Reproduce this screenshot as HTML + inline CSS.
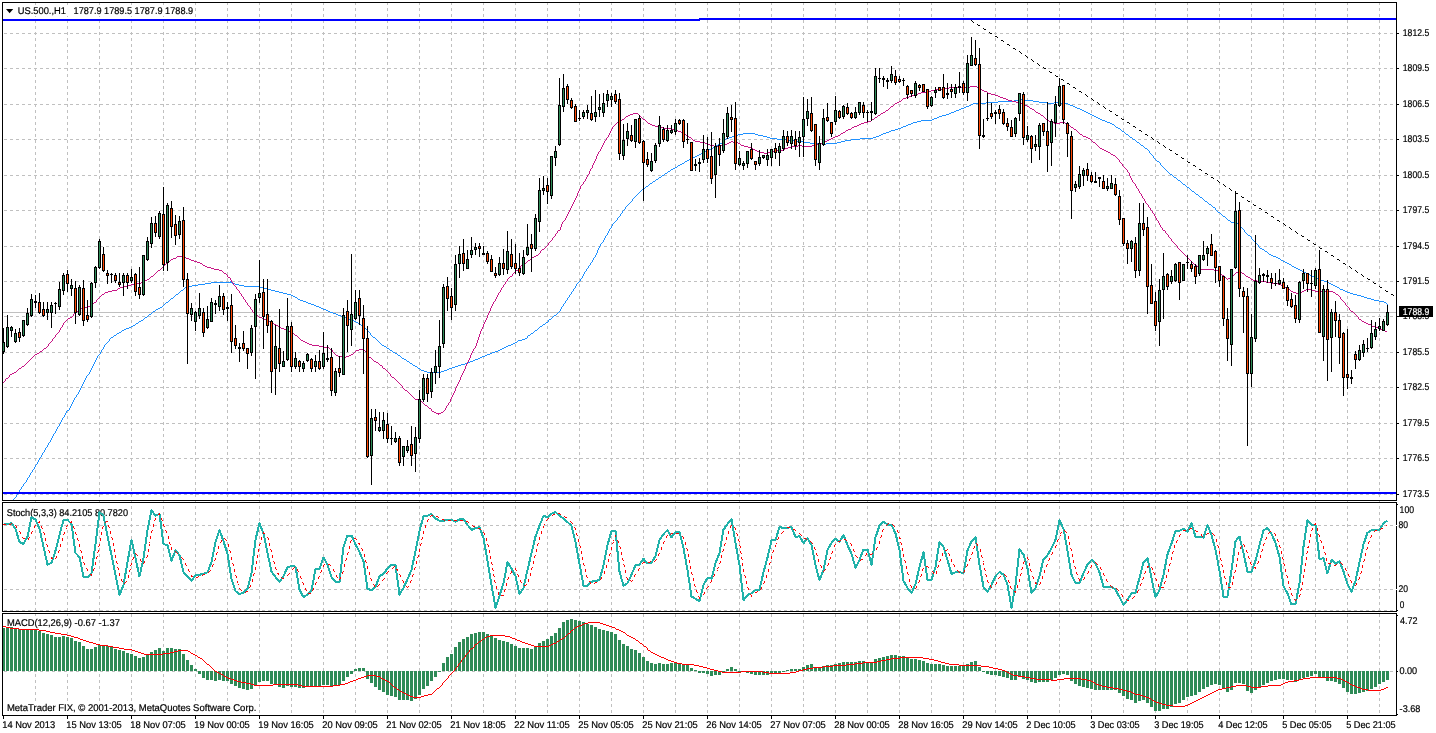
<!DOCTYPE html>
<html><head><meta charset="utf-8"><title>US.500 H1</title>
<style>html,body{margin:0;padding:0;background:#fff;overflow:hidden}svg{display:block;will-change:transform}text{font-family:"Liberation Sans",sans-serif}</style>
</head><body>
<svg width="1436" height="733" viewBox="0 0 1436 733" shape-rendering="crispEdges">
<rect x="0" y="0" width="1436" height="733" fill="#fff"/>
<path d="M35.5 2V715M67.5 2V715M99.5 2V715M131.5 2V715M163.5 2V715M195.5 2V715M227.5 2V715M259.5 2V715M291.5 2V715M323.5 2V715M355.5 2V715M387.5 2V715M419.5 2V715M451.5 2V715M483.5 2V715M515.5 2V715M547.5 2V715M579.5 2V715M611.5 2V715M643.5 2V715M675.5 2V715M707.5 2V715M739.5 2V715M771.5 2V715M803.5 2V715M835.5 2V715M867.5 2V715M899.5 2V715M931.5 2V715M963.5 2V715M995.5 2V715M1027.5 2V715M1059.5 2V715M1091.5 2V715M1123.5 2V715M1155.5 2V715M1187.5 2V715M1219.5 2V715M1251.5 2V715M1283.5 2V715M1315.5 2V715M1347.5 2V715M1379.5 2V715" stroke="#c0c0c0" stroke-width="1" stroke-dasharray="3 3" fill="none"/>
<path d="M3 33.5H1396M3 68.5H1396M3 104.5H1396M3 139.5H1396M3 175.5H1396M3 210.5H1396M3 246.5H1396M3 281.5H1396M3 316.5H1396M3 352.5H1396M3 387.5H1396M3 423.5H1396M3 458.5H1396M3 494.5H1396M3 525.5H1396M3 589.5H1396M3 610.5H1396M3 671.5H1396" stroke="#c0c0c0" stroke-width="1" stroke-dasharray="3 3" stroke-dashoffset="5" fill="none"/>
<path d="M3 312.5H1396" stroke="#c0c0c0" stroke-width="1" fill="none"/>
<rect x="4" y="5" width="190" height="11" fill="#fff"/><rect x="5" y="505" width="125" height="13" fill="#fff"/><rect x="5" y="616" width="117" height="13" fill="#fff"/><rect x="5" y="701" width="253" height="13" fill="#fff"/><g font-family="Liberation Sans, sans-serif" text-rendering="geometricPrecision" shape-rendering="geometricPrecision"><text x="17.7" y="13.8" font-size="9.8" fill="#000" stroke="#000" stroke-width="0.2" textLength="48.3" lengthAdjust="spacingAndGlyphs">US.500.,H1</text><text x="73.6" y="13.8" font-size="9.8" fill="#000" stroke="#000" stroke-width="0.2" textLength="119.5" lengthAdjust="spacingAndGlyphs">1787.9 1789.5 1787.9 1788.9</text><path d="M6 9H13.2L9.6 13.2Z" fill="#000"/><text x="6.8" y="515.8" font-size="9.8" fill="#000" stroke="#000" stroke-width="0.2" textLength="121.2" lengthAdjust="spacingAndGlyphs">Stoch(5,3,3) 84.2105 80.7820</text><text x="6.9" y="626" font-size="9.8" fill="#000" stroke="#000" stroke-width="0.2" textLength="113" lengthAdjust="spacingAndGlyphs">MACD(12,26,9) -0.67 -1.37</text><text x="6.9" y="711" font-size="9.8" fill="#000" stroke="#000" stroke-width="0.2" textLength="249.6" lengthAdjust="spacingAndGlyphs">MetaTrader FIX, © 2001-2013, MetaQuotes Software Corp.</text></g>
<clipPath id="cm"><rect x="3" y="3" width="1393" height="497"/></clipPath>
<g clip-path="url(#cm)">
<path d="M1021 99h1v1h-1zM1014 100h7v1h-7zM1022 100h11v1h-11zM998 101h16v1h-16zM1033 101h6v1h-6zM986 102h12v1h-12zM1039 102h8v1h-8zM1054 102h7v1h-7zM973 103h13v1h-13zM1047 103h7v1h-7zM1061 103h7v1h-7zM971 104h2v1h-2zM1068 104h2v1h-2zM969 105h2v1h-2zM1070 105h3v1h-3zM966 106h3v1h-3zM1073 106h2v1h-2zM964 107h2v1h-2zM1075 107h2v1h-2zM961 108h3v1h-3zM1077 108h3v1h-3zM959 109h2v1h-2zM1080 109h2v1h-2zM956 110h3v1h-3zM1082 110h2v1h-2zM954 111h2v1h-2zM1084 111h2v1h-2zM951 112h3v1h-3zM1086 112h2v1h-2zM949 113h2v1h-2zM1088 113h2v1h-2zM946 114h3v1h-3zM1090 114h2v1h-2zM942 115h4v1h-4zM1092 115h2v1h-2zM939 116h3v1h-3zM1094 116h2v1h-2zM937 117h2v1h-2zM1096 117h2v1h-2zM934 118h3v1h-3zM1098 118h2v1h-2zM932 119h2v1h-2zM1100 119h2v1h-2zM921 120h11v1h-11zM1102 120h3v1h-3zM917 121h4v1h-4zM1105 121h2v1h-2zM913 122h4v1h-4zM1107 122h3v1h-3zM911 123h2v1h-2zM1110 123h2v1h-2zM908 124h3v1h-3zM1112 124h2v1h-2zM906 125h2v1h-2zM1114 125h1v1h-1zM903 126h3v1h-3zM1115 126h1v1h-1zM901 127h2v1h-2zM1116 127h2v1h-2zM898 128h3v1h-3zM1118 128h2v1h-2zM895 129h3v1h-3zM1120 129h1v1h-1zM891 130h4v1h-4zM1121 130h1v1h-1zM889 131h2v1h-2zM1122 131h2v1h-2zM886 132h3v1h-3zM1124 132h1v1h-1zM743 133h12v1h-12zM883 133h3v1h-3zM1125 133h1v1h-1zM738 134h5v1h-5zM755 134h3v1h-3zM881 134h2v1h-2zM1126 134h2v1h-2zM735 135h3v1h-3zM758 135h5v1h-5zM879 135h2v1h-2zM1128 135h1v1h-1zM732 136h3v1h-3zM763 136h4v1h-4zM876 136h3v1h-3zM1129 136h1v1h-1zM729 137h3v1h-3zM767 137h3v1h-3zM873 137h3v1h-3zM1130 137h2v1h-2zM726 138h3v1h-3zM770 138h7v1h-7zM860 138h13v1h-13zM1132 138h1v1h-1zM725 139h1v1h-1zM777 139h12v1h-12zM851 139h9v1h-9zM1133 139h2v1h-2zM724 140h1v1h-1zM789 140h7v1h-7zM845 140h6v1h-6zM1135 140h1v1h-1zM723 141h1v1h-1zM796 141h7v1h-7zM841 141h4v1h-4zM1136 141h1v1h-1zM722 142h1v1h-1zM803 142h7v1h-7zM837 142h4v1h-4zM1137 142h2v1h-2zM720 143h2v1h-2zM810 143h12v1h-12zM826 143h11v1h-11zM1139 143h1v1h-1zM718 144h2v1h-2zM822 144h4v1h-4zM1140 144h1v1h-1zM716 145h2v1h-2zM1141 145h2v1h-2zM715 146h1v1h-1zM1143 146h1v1h-1zM713 147h2v1h-2zM1144 147h1v1h-1zM711 148h2v1h-2zM1145 148h2v1h-2zM709 149h2v1h-2zM1147 149h1v1h-1zM707 150h2v1h-2zM1148 150h1v1h-1zM705 151h2v1h-2zM1149 151h1v1h-1zM703 152h2v1h-2zM1149 152h1v1h-1zM701 153h2v1h-2zM1150 153h1v1h-1zM699 154h2v1h-2zM1151 154h1v1h-1zM697 155h2v1h-2zM1152 155h1v1h-1zM695 156h2v1h-2zM1153 156h1v1h-1zM693 157h2v1h-2zM1153 157h1v1h-1zM691 158h2v1h-2zM1154 158h1v1h-1zM689 159h2v1h-2zM1155 159h1v1h-1zM687 160h2v1h-2zM1156 160h1v1h-1zM685 161h2v1h-2zM1157 161h2v1h-2zM684 162h1v1h-1zM1159 162h1v1h-1zM682 163h2v1h-2zM1160 163h1v1h-1zM680 164h2v1h-2zM1160 164h1v1h-1zM678 165h2v1h-2zM1161 165h1v1h-1zM677 166h1v1h-1zM1162 166h1v1h-1zM675 167h2v1h-2zM1163 167h1v1h-1zM673 168h2v1h-2zM1164 168h1v1h-1zM671 169h2v1h-2zM1165 169h1v1h-1zM670 170h1v1h-1zM1166 170h1v1h-1zM668 171h2v1h-2zM1167 171h1v1h-1zM667 172h1v1h-1zM1168 172h1v1h-1zM665 173h2v1h-2zM1169 173h1v1h-1zM664 174h1v1h-1zM1170 174h2v1h-2zM662 175h2v1h-2zM1172 175h1v1h-1zM661 176h1v1h-1zM1173 176h1v1h-1zM659 177h2v1h-2zM1174 177h2v1h-2zM658 178h1v1h-1zM1176 178h1v1h-1zM656 179h2v1h-2zM1177 179h1v1h-1zM655 180h1v1h-1zM1178 180h2v1h-2zM653 181h2v1h-2zM1180 181h1v1h-1zM652 182h1v1h-1zM1181 182h1v1h-1zM650 183h2v1h-2zM1182 183h1v1h-1zM649 184h1v1h-1zM1183 184h2v1h-2zM648 185h1v1h-1zM1185 185h1v1h-1zM646 186h2v1h-2zM1186 186h1v1h-1zM645 187h1v1h-1zM1187 187h2v1h-2zM643 188h2v1h-2zM1189 188h1v1h-1zM642 189h1v1h-1zM1190 189h1v1h-1zM641 190h1v1h-1zM1191 190h1v1h-1zM640 191h1v1h-1zM1192 191h2v1h-2zM639 192h1v1h-1zM1194 192h1v1h-1zM638 193h1v1h-1zM1195 193h1v1h-1zM637 194h1v1h-1zM1196 194h2v1h-2zM636 195h1v1h-1zM1198 195h1v1h-1zM635 196h1v1h-1zM1199 196h1v1h-1zM634 197h1v1h-1zM1200 197h2v1h-2zM633 198h1v1h-1zM1202 198h1v1h-1zM632 199h1v1h-1zM1203 199h1v1h-1zM632 200h1v1h-1zM1204 200h1v1h-1zM631 201h1v1h-1zM1205 201h2v1h-2zM630 202h1v1h-1zM1207 202h1v1h-1zM629 203h1v1h-1zM1208 203h1v1h-1zM628 204h1v1h-1zM1209 204h2v1h-2zM627 205h1v1h-1zM1211 205h1v1h-1zM626 206h1v1h-1zM1212 206h1v1h-1zM625 207h1v1h-1zM1213 207h2v1h-2zM625 208h1v1h-1zM1215 208h1v1h-1zM624 209h1v1h-1zM1215 209h1v1h-1zM623 210h1v1h-1zM1216 210h1v1h-1zM622 211h1v1h-1zM1217 211h1v1h-1zM622 212h1v1h-1zM1218 212h2v1h-2zM621 213h1v1h-1zM1220 213h1v1h-1zM620 214h1v1h-1zM1221 214h1v1h-1zM620 215h1v1h-1zM1222 215h1v1h-1zM619 216h1v1h-1zM1223 216h2v1h-2zM618 217h1v1h-1zM1225 217h1v1h-1zM617 218h1v1h-1zM1226 218h1v1h-1zM617 219h1v1h-1zM1227 219h1v1h-1zM616 220h1v1h-1zM1228 220h2v1h-2zM615 221h1v1h-1zM1230 221h1v1h-1zM614 222h1v1h-1zM1231 222h5v1h-5zM613 223h1v1h-1zM1236 223h2v1h-2zM612 224h1v1h-1zM1238 224h1v1h-1zM612 225h1v1h-1zM1239 225h1v1h-1zM611 226h1v1h-1zM1240 226h1v1h-1zM611 227h1v1h-1zM1241 227h1v1h-1zM610 228h1v1h-1zM1242 228h1v1h-1zM609 229h1v1h-1zM1243 229h1v1h-1zM609 230h1v1h-1zM1244 230h1v1h-1zM608 231h1v1h-1zM1244 231h1v1h-1zM608 232h1v1h-1zM1245 232h1v1h-1zM607 233h1v1h-1zM1246 233h1v1h-1zM607 234h1v1h-1zM1247 234h1v1h-1zM606 235h1v1h-1zM1248 235h2v1h-2zM605 236h1v1h-1zM1250 236h1v1h-1zM605 237h1v1h-1zM1251 237h1v1h-1zM604 238h1v1h-1zM1251 238h1v1h-1zM604 239h1v1h-1zM1252 239h1v1h-1zM603 240h1v1h-1zM1253 240h1v1h-1zM603 241h1v1h-1zM1254 241h1v1h-1zM602 242h1v1h-1zM1255 242h1v1h-1zM601 243h1v1h-1zM1256 243h1v1h-1zM600 244h1v1h-1zM1257 244h1v1h-1zM600 245h1v1h-1zM1258 245h1v1h-1zM599 246h1v1h-1zM1258 246h1v1h-1zM599 247h1v1h-1zM1259 247h1v1h-1zM598 248h1v1h-1zM1260 248h2v1h-2zM598 249h1v1h-1zM1262 249h2v1h-2zM597 250h1v1h-1zM1264 250h1v1h-1zM597 251h1v1h-1zM1265 251h2v1h-2zM597 252h1v1h-1zM1267 252h1v1h-1zM596 253h1v1h-1zM1268 253h1v1h-1zM596 254h1v1h-1zM1269 254h2v1h-2zM595 255h1v1h-1zM1271 255h2v1h-2zM595 256h1v1h-1zM1273 256h3v1h-3zM594 257h1v1h-1zM1276 257h2v1h-2zM593 258h1v1h-1zM1278 258h2v1h-2zM593 259h1v1h-1zM1280 259h1v1h-1zM592 260h1v1h-1zM1281 260h2v1h-2zM592 261h1v1h-1zM1283 261h2v1h-2zM591 262h1v1h-1zM1285 262h2v1h-2zM590 263h1v1h-1zM1287 263h2v1h-2zM590 264h1v1h-1zM1289 264h2v1h-2zM589 265h1v1h-1zM1291 265h1v1h-1zM588 266h1v1h-1zM1292 266h2v1h-2zM588 267h1v1h-1zM1294 267h2v1h-2zM587 268h1v1h-1zM1296 268h2v1h-2zM586 269h1v1h-1zM1298 269h2v1h-2zM586 270h1v1h-1zM1300 270h2v1h-2zM585 271h1v1h-1zM1302 271h1v1h-1zM584 272h1v1h-1zM1303 272h3v1h-3zM584 273h1v1h-1zM1306 273h2v1h-2zM583 274h1v1h-1zM1308 274h2v1h-2zM583 275h1v1h-1zM1310 275h2v1h-2zM582 276h1v1h-1zM1312 276h2v1h-2zM582 277h1v1h-1zM1314 277h2v1h-2zM581 278h1v1h-1zM1316 278h2v1h-2zM580 279h1v1h-1zM1318 279h3v1h-3zM580 280h1v1h-1zM1321 280h3v1h-3zM230 281h1v1h-1zM579 281h1v1h-1zM1324 281h3v1h-3zM211 282h21v1h-21zM578 282h1v1h-1zM1327 282h2v1h-2zM205 283h6v1h-6zM232 283h3v1h-3zM577 283h1v1h-1zM1329 283h2v1h-2zM198 284h7v1h-7zM235 284h4v1h-4zM576 284h1v1h-1zM1331 284h2v1h-2zM192 285h6v1h-6zM239 285h5v1h-5zM576 285h1v1h-1zM1333 285h2v1h-2zM187 286h5v1h-5zM244 286h16v1h-16zM575 286h1v1h-1zM1335 286h2v1h-2zM185 287h2v1h-2zM260 287h3v1h-3zM575 287h1v1h-1zM1337 287h2v1h-2zM184 288h1v1h-1zM263 288h4v1h-4zM574 288h1v1h-1zM1339 288h1v1h-1zM183 289h1v1h-1zM267 289h4v1h-4zM573 289h1v1h-1zM1340 289h3v1h-3zM181 290h2v1h-2zM271 290h4v1h-4zM573 290h1v1h-1zM1343 290h2v1h-2zM180 291h1v1h-1zM275 291h4v1h-4zM572 291h1v1h-1zM1345 291h2v1h-2zM179 292h1v1h-1zM279 292h4v1h-4zM571 292h1v1h-1zM1347 292h3v1h-3zM178 293h1v1h-1zM283 293h4v1h-4zM571 293h1v1h-1zM1350 293h3v1h-3zM176 294h2v1h-2zM287 294h4v1h-4zM570 294h1v1h-1zM1353 294h4v1h-4zM175 295h1v1h-1zM291 295h2v1h-2zM569 295h1v1h-1zM1357 295h4v1h-4zM174 296h1v1h-1zM293 296h2v1h-2zM569 296h1v1h-1zM1361 296h3v1h-3zM173 297h1v1h-1zM295 297h2v1h-2zM568 297h1v1h-1zM1364 297h3v1h-3zM171 298h2v1h-2zM297 298h1v1h-1zM567 298h1v1h-1zM1367 298h4v1h-4zM170 299h1v1h-1zM298 299h2v1h-2zM567 299h1v1h-1zM1371 299h3v1h-3zM169 300h1v1h-1zM300 300h3v1h-3zM566 300h1v1h-1zM1374 300h5v1h-5zM168 301h1v1h-1zM303 301h3v1h-3zM565 301h1v1h-1zM1379 301h5v1h-5zM166 302h2v1h-2zM306 302h2v1h-2zM565 302h1v1h-1zM1384 302h2v1h-2zM165 303h1v1h-1zM308 303h3v1h-3zM564 303h1v1h-1zM1386 303h1v1h-1zM164 304h1v1h-1zM311 304h3v1h-3zM563 304h1v1h-1zM1387 304h1v1h-1zM163 305h1v1h-1zM314 305h2v1h-2zM563 305h1v1h-1zM162 306h1v1h-1zM316 306h3v1h-3zM562 306h1v1h-1zM160 307h2v1h-2zM319 307h2v1h-2zM561 307h1v1h-1zM158 308h2v1h-2zM321 308h2v1h-2zM561 308h1v1h-1zM156 309h2v1h-2zM323 309h3v1h-3zM560 309h1v1h-1zM155 310h1v1h-1zM326 310h2v1h-2zM560 310h1v1h-1zM153 311h2v1h-2zM328 311h2v1h-2zM559 311h1v1h-1zM152 312h1v1h-1zM330 312h3v1h-3zM558 312h1v1h-1zM151 313h1v1h-1zM333 313h3v1h-3zM557 313h1v1h-1zM149 314h2v1h-2zM336 314h2v1h-2zM556 314h1v1h-1zM148 315h1v1h-1zM338 315h3v1h-3zM554 315h2v1h-2zM147 316h1v1h-1zM341 316h3v1h-3zM553 316h1v1h-1zM145 317h2v1h-2zM344 317h2v1h-2zM552 317h1v1h-1zM144 318h1v1h-1zM346 318h2v1h-2zM551 318h1v1h-1zM143 319h1v1h-1zM348 319h3v1h-3zM549 319h2v1h-2zM141 320h2v1h-2zM351 320h3v1h-3zM548 320h1v1h-1zM139 321h2v1h-2zM354 321h2v1h-2zM548 321h1v1h-1zM138 322h1v1h-1zM356 322h2v1h-2zM546 322h2v1h-2zM136 323h2v1h-2zM358 323h1v1h-1zM545 323h1v1h-1zM135 324h1v1h-1zM359 324h2v1h-2zM543 324h2v1h-2zM133 325h2v1h-2zM361 325h1v1h-1zM542 325h1v1h-1zM131 326h2v1h-2zM362 326h1v1h-1zM540 326h2v1h-2zM129 327h2v1h-2zM363 327h2v1h-2zM539 327h1v1h-1zM126 328h3v1h-3zM365 328h1v1h-1zM538 328h1v1h-1zM124 329h2v1h-2zM366 329h1v1h-1zM537 329h1v1h-1zM122 330h2v1h-2zM367 330h1v1h-1zM535 330h2v1h-2zM121 331h1v1h-1zM368 331h1v1h-1zM534 331h1v1h-1zM119 332h2v1h-2zM369 332h1v1h-1zM533 332h1v1h-1zM117 333h2v1h-2zM370 333h1v1h-1zM531 333h2v1h-2zM116 334h1v1h-1zM370 334h1v1h-1zM530 334h1v1h-1zM114 335h2v1h-2zM371 335h1v1h-1zM528 335h2v1h-2zM113 336h1v1h-1zM372 336h1v1h-1zM527 336h1v1h-1zM111 337h2v1h-2zM373 337h2v1h-2zM527 337h1v1h-1zM110 338h1v1h-1zM375 338h1v1h-1zM525 338h2v1h-2zM109 339h1v1h-1zM376 339h1v1h-1zM522 339h3v1h-3zM109 340h1v1h-1zM377 340h1v1h-1zM518 340h4v1h-4zM108 341h1v1h-1zM378 341h1v1h-1zM517 341h1v1h-1zM107 342h1v1h-1zM379 342h1v1h-1zM515 342h2v1h-2zM106 343h1v1h-1zM380 343h1v1h-1zM513 343h2v1h-2zM105 344h1v1h-1zM381 344h1v1h-1zM511 344h2v1h-2zM104 345h1v1h-1zM382 345h2v1h-2zM508 345h3v1h-3zM104 346h1v1h-1zM384 346h2v1h-2zM506 346h2v1h-2zM103 347h1v1h-1zM386 347h1v1h-1zM504 347h2v1h-2zM103 348h1v1h-1zM387 348h2v1h-2zM502 348h2v1h-2zM102 349h1v1h-1zM389 349h1v1h-1zM500 349h2v1h-2zM101 350h1v1h-1zM390 350h2v1h-2zM498 350h2v1h-2zM101 351h1v1h-1zM392 351h1v1h-1zM495 351h3v1h-3zM100 352h1v1h-1zM393 352h2v1h-2zM492 352h3v1h-3zM100 353h1v1h-1zM395 353h2v1h-2zM490 353h2v1h-2zM99 354h1v1h-1zM397 354h1v1h-1zM487 354h3v1h-3zM98 355h1v1h-1zM398 355h2v1h-2zM485 355h2v1h-2zM97 356h1v1h-1zM400 356h1v1h-1zM482 356h3v1h-3zM97 357h1v1h-1zM401 357h1v1h-1zM480 357h2v1h-2zM96 358h1v1h-1zM402 358h2v1h-2zM478 358h2v1h-2zM96 359h1v1h-1zM404 359h2v1h-2zM475 359h3v1h-3zM95 360h1v1h-1zM406 360h1v1h-1zM473 360h2v1h-2zM95 361h1v1h-1zM407 361h2v1h-2zM470 361h3v1h-3zM94 362h1v1h-1zM409 362h1v1h-1zM468 362h2v1h-2zM94 363h1v1h-1zM410 363h2v1h-2zM465 363h3v1h-3zM93 364h1v1h-1zM412 364h1v1h-1zM461 364h4v1h-4zM93 365h1v1h-1zM413 365h2v1h-2zM458 365h3v1h-3zM92 366h1v1h-1zM415 366h2v1h-2zM455 366h3v1h-3zM92 367h1v1h-1zM417 367h1v1h-1zM452 367h3v1h-3zM91 368h1v1h-1zM418 368h2v1h-2zM449 368h3v1h-3zM91 369h1v1h-1zM420 369h1v1h-1zM447 369h2v1h-2zM90 370h1v1h-1zM421 370h3v1h-3zM444 370h3v1h-3zM90 371h1v1h-1zM424 371h3v1h-3zM441 371h3v1h-3zM89 372h1v1h-1zM427 372h14v1h-14zM89 373h1v1h-1zM88 374h1v1h-1zM87 375h1v1h-1zM86 376h1v1h-1zM86 377h1v1h-1zM85 378h1v1h-1zM85 379h1v1h-1zM84 380h1v1h-1zM84 381h1v1h-1zM83 382h1v1h-1zM83 383h1v1h-1zM82 384h1v1h-1zM82 385h1v1h-1zM81 386h1v1h-1zM81 387h1v1h-1zM80 388h1v1h-1zM80 389h1v1h-1zM79 390h1v1h-1zM79 391h1v1h-1zM78 392h1v1h-1zM78 393h1v1h-1zM77 394h1v1h-1zM76 395h1v1h-1zM76 396h1v1h-1zM75 397h1v1h-1zM74 398h1v1h-1zM74 399h1v1h-1zM73 400h1v1h-1zM73 401h1v1h-1zM72 402h1v1h-1zM72 403h1v1h-1zM71 404h1v1h-1zM71 405h1v1h-1zM70 406h1v1h-1zM70 407h1v1h-1zM69 408h1v1h-1zM69 409h1v1h-1zM67 410h2v1h-2zM66 411h1v1h-1zM66 412h1v1h-1zM65 413h1v1h-1zM65 414h1v1h-1zM64 415h1v1h-1zM64 416h1v1h-1zM63 417h1v1h-1zM62 418h1v1h-1zM62 419h1v1h-1zM61 420h1v1h-1zM61 421h1v1h-1zM60 422h1v1h-1zM60 423h1v1h-1zM59 424h1v1h-1zM59 425h1v1h-1zM58 426h1v1h-1zM57 427h1v1h-1zM57 428h1v1h-1zM56 429h1v1h-1zM56 430h1v1h-1zM55 431h1v1h-1zM55 432h1v1h-1zM54 433h1v1h-1zM53 434h1v1h-1zM53 435h1v1h-1zM52 436h1v1h-1zM52 437h1v1h-1zM51 438h1v1h-1zM51 439h1v1h-1zM50 440h1v1h-1zM50 441h1v1h-1zM49 442h1v1h-1zM48 443h1v1h-1zM48 444h1v1h-1zM47 445h1v1h-1zM47 446h1v1h-1zM46 447h1v1h-1zM45 448h1v1h-1zM45 449h1v1h-1zM44 450h1v1h-1zM44 451h1v1h-1zM43 452h1v1h-1zM42 453h1v1h-1zM42 454h1v1h-1zM41 455h1v1h-1zM41 456h1v1h-1zM40 457h1v1h-1zM39 458h1v1h-1zM39 459h1v1h-1zM38 460h1v1h-1zM38 461h1v1h-1zM37 462h1v1h-1zM37 463h1v1h-1zM36 464h1v1h-1zM35 465h1v1h-1zM35 466h1v1h-1zM34 467h1v1h-1zM34 468h1v1h-1zM33 469h1v1h-1zM32 470h1v1h-1zM32 471h1v1h-1zM31 472h1v1h-1zM30 473h1v1h-1zM30 474h1v1h-1zM29 475h1v1h-1zM29 476h1v1h-1zM28 477h1v1h-1zM27 478h1v1h-1zM27 479h1v1h-1zM26 480h1v1h-1zM26 481h1v1h-1zM25 482h1v1h-1zM24 483h1v1h-1zM23 484h1v1h-1zM23 485h1v1h-1zM22 486h1v1h-1zM21 487h1v1h-1zM21 488h1v1h-1zM20 489h1v1h-1zM19 490h1v1h-1zM19 491h1v1h-1zM18 492h1v1h-1zM18 493h1v1h-1zM17 494h1v1h-1zM16 495h1v1h-1zM16 496h1v1h-1zM15 497h1v1h-1zM14 498h1v1h-1zM13 499h1v1h-1z" fill="#1e90ff"/>
<path d="M970 86h7v1h-7zM949 87h15v1h-15zM965 87h5v1h-5zM977 87h1v1h-1zM943 88h6v1h-6zM964 88h1v1h-1zM978 88h2v1h-2zM936 89h7v1h-7zM980 89h2v1h-2zM931 90h5v1h-5zM982 90h2v1h-2zM926 91h5v1h-5zM984 91h3v1h-3zM921 92h5v1h-5zM987 92h1v1h-1zM918 93h3v1h-3zM988 93h3v1h-3zM914 94h4v1h-4zM991 94h4v1h-4zM911 95h3v1h-3zM995 95h3v1h-3zM909 96h2v1h-2zM998 96h2v1h-2zM906 97h3v1h-3zM1000 97h3v1h-3zM903 98h3v1h-3zM1003 98h3v1h-3zM902 99h1v1h-1zM1006 99h2v1h-2zM901 100h1v1h-1zM1008 100h4v1h-4zM899 101h2v1h-2zM1012 101h4v1h-4zM897 102h2v1h-2zM1016 102h4v1h-4zM895 103h2v1h-2zM1020 103h3v1h-3zM894 104h1v1h-1zM1023 104h2v1h-2zM893 105h1v1h-1zM1025 105h2v1h-2zM891 106h2v1h-2zM1027 106h2v1h-2zM890 107h1v1h-1zM1029 107h1v1h-1zM889 108h1v1h-1zM1030 108h2v1h-2zM888 109h1v1h-1zM1032 109h2v1h-2zM886 110h2v1h-2zM1034 110h1v1h-1zM885 111h1v1h-1zM1035 111h1v1h-1zM883 112h2v1h-2zM1036 112h2v1h-2zM633 113h5v1h-5zM881 113h2v1h-2zM1038 113h2v1h-2zM630 114h3v1h-3zM638 114h1v1h-1zM880 114h1v1h-1zM1040 114h1v1h-1zM628 115h2v1h-2zM639 115h1v1h-1zM878 115h2v1h-2zM1041 115h2v1h-2zM626 116h2v1h-2zM640 116h1v1h-1zM877 116h1v1h-1zM1043 116h1v1h-1zM625 117h1v1h-1zM641 117h1v1h-1zM875 117h2v1h-2zM1044 117h1v1h-1zM624 118h1v1h-1zM642 118h1v1h-1zM874 118h1v1h-1zM1045 118h1v1h-1zM622 119h2v1h-2zM643 119h2v1h-2zM872 119h2v1h-2zM1046 119h2v1h-2zM620 120h2v1h-2zM645 120h1v1h-1zM871 120h1v1h-1zM1048 120h1v1h-1zM618 121h2v1h-2zM646 121h1v1h-1zM868 121h3v1h-3zM1049 121h2v1h-2zM617 122h1v1h-1zM647 122h1v1h-1zM864 122h4v1h-4zM1051 122h3v1h-3zM1060 122h5v1h-5zM616 123h1v1h-1zM648 123h2v1h-2zM861 123h3v1h-3zM1054 123h6v1h-6zM1065 123h2v1h-2zM615 124h1v1h-1zM650 124h2v1h-2zM859 124h2v1h-2zM1067 124h1v1h-1zM614 125h1v1h-1zM652 125h3v1h-3zM857 125h2v1h-2zM1068 125h2v1h-2zM613 126h1v1h-1zM655 126h5v1h-5zM854 126h3v1h-3zM1070 126h1v1h-1zM612 127h1v1h-1zM660 127h4v1h-4zM852 127h2v1h-2zM1071 127h2v1h-2zM612 128h1v1h-1zM664 128h7v1h-7zM851 128h1v1h-1zM1073 128h1v1h-1zM611 129h1v1h-1zM671 129h3v1h-3zM848 129h3v1h-3zM1074 129h2v1h-2zM611 130h1v1h-1zM674 130h4v1h-4zM846 130h2v1h-2zM1076 130h1v1h-1zM610 131h1v1h-1zM678 131h3v1h-3zM845 131h1v1h-1zM1077 131h1v1h-1zM610 132h1v1h-1zM681 132h2v1h-2zM843 132h2v1h-2zM1078 132h1v1h-1zM609 133h1v1h-1zM683 133h1v1h-1zM841 133h2v1h-2zM1079 133h1v1h-1zM609 134h1v1h-1zM684 134h2v1h-2zM840 134h1v1h-1zM1080 134h2v1h-2zM608 135h1v1h-1zM686 135h1v1h-1zM838 135h2v1h-2zM1082 135h1v1h-1zM608 136h1v1h-1zM687 136h2v1h-2zM835 136h3v1h-3zM1083 136h3v1h-3zM607 137h1v1h-1zM689 137h2v1h-2zM833 137h2v1h-2zM1086 137h2v1h-2zM606 138h1v1h-1zM691 138h1v1h-1zM831 138h2v1h-2zM1088 138h2v1h-2zM606 139h1v1h-1zM692 139h1v1h-1zM829 139h2v1h-2zM1090 139h1v1h-1zM605 140h1v1h-1zM693 140h2v1h-2zM827 140h2v1h-2zM1091 140h1v1h-1zM604 141h1v1h-1zM695 141h5v1h-5zM731 141h2v1h-2zM825 141h2v1h-2zM1092 141h1v1h-1zM604 142h1v1h-1zM700 142h5v1h-5zM729 142h2v1h-2zM733 142h5v1h-5zM823 142h2v1h-2zM1093 142h2v1h-2zM603 143h1v1h-1zM705 143h2v1h-2zM727 143h2v1h-2zM738 143h2v1h-2zM821 143h2v1h-2zM1095 143h1v1h-1zM603 144h1v1h-1zM707 144h3v1h-3zM725 144h2v1h-2zM740 144h1v1h-1zM817 144h4v1h-4zM1096 144h1v1h-1zM602 145h1v1h-1zM710 145h4v1h-4zM721 145h4v1h-4zM741 145h3v1h-3zM798 145h4v1h-4zM812 145h5v1h-5zM1097 145h1v1h-1zM602 146h1v1h-1zM714 146h7v1h-7zM744 146h4v1h-4zM791 146h7v1h-7zM802 146h10v1h-10zM1098 146h1v1h-1zM601 147h1v1h-1zM748 147h4v1h-4zM788 147h3v1h-3zM1099 147h1v1h-1zM601 148h1v1h-1zM752 148h1v1h-1zM785 148h3v1h-3zM1100 148h2v1h-2zM600 149h1v1h-1zM753 149h2v1h-2zM783 149h2v1h-2zM1102 149h2v1h-2zM600 150h1v1h-1zM755 150h2v1h-2zM775 150h8v1h-8zM1104 150h2v1h-2zM599 151h1v1h-1zM757 151h3v1h-3zM771 151h4v1h-4zM1106 151h2v1h-2zM598 152h1v1h-1zM760 152h4v1h-4zM767 152h4v1h-4zM1108 152h2v1h-2zM598 153h1v1h-1zM764 153h3v1h-3zM1110 153h1v1h-1zM597 154h1v1h-1zM1111 154h2v1h-2zM597 155h1v1h-1zM1113 155h2v1h-2zM596 156h1v1h-1zM1115 156h1v1h-1zM596 157h1v1h-1zM1116 157h1v1h-1zM596 158h1v1h-1zM1117 158h1v1h-1zM595 159h1v1h-1zM1118 159h1v1h-1zM595 160h1v1h-1zM1119 160h1v1h-1zM594 161h1v1h-1zM1119 161h1v1h-1zM594 162h1v1h-1zM1120 162h1v1h-1zM593 163h1v1h-1zM1121 163h1v1h-1zM593 164h1v1h-1zM1122 164h1v1h-1zM592 165h1v1h-1zM1122 165h1v1h-1zM592 166h1v1h-1zM1123 166h1v1h-1zM592 167h1v1h-1zM1124 167h1v1h-1zM591 168h1v1h-1zM1125 168h1v1h-1zM590 169h1v1h-1zM1126 169h1v1h-1zM590 170h1v1h-1zM1127 170h1v1h-1zM589 171h1v1h-1zM1127 171h1v1h-1zM589 172h1v1h-1zM1128 172h1v1h-1zM589 173h1v1h-1zM1129 173h1v1h-1zM588 174h1v1h-1zM1129 174h1v1h-1zM587 175h1v1h-1zM1129 175h1v1h-1zM587 176h1v1h-1zM1130 176h1v1h-1zM586 177h1v1h-1zM1130 177h1v1h-1zM586 178h1v1h-1zM1131 178h1v1h-1zM585 179h1v1h-1zM1131 179h1v1h-1zM585 180h1v1h-1zM1132 180h1v1h-1zM584 181h1v1h-1zM1132 181h1v1h-1zM583 182h1v1h-1zM1133 182h1v1h-1zM583 183h1v1h-1zM1134 183h1v1h-1zM582 184h1v1h-1zM1135 184h1v1h-1zM581 185h1v1h-1zM1135 185h1v1h-1zM580 186h1v1h-1zM1136 186h1v1h-1zM580 187h1v1h-1zM1136 187h1v1h-1zM580 188h1v1h-1zM1137 188h1v1h-1zM579 189h1v1h-1zM1138 189h1v1h-1zM579 190h1v1h-1zM1138 190h1v1h-1zM578 191h1v1h-1zM1139 191h1v1h-1zM578 192h1v1h-1zM1139 192h1v1h-1zM577 193h1v1h-1zM1140 193h1v1h-1zM577 194h1v1h-1zM1141 194h1v1h-1zM577 195h1v1h-1zM1141 195h1v1h-1zM576 196h1v1h-1zM1142 196h1v1h-1zM576 197h1v1h-1zM1142 197h1v1h-1zM575 198h1v1h-1zM1143 198h1v1h-1zM575 199h1v1h-1zM1144 199h1v1h-1zM574 200h1v1h-1zM1144 200h1v1h-1zM574 201h1v1h-1zM1145 201h1v1h-1zM573 202h1v1h-1zM1145 202h1v1h-1zM573 203h1v1h-1zM1146 203h1v1h-1zM572 204h1v1h-1zM1147 204h1v1h-1zM572 205h1v1h-1zM1148 205h1v1h-1zM571 206h1v1h-1zM1148 206h1v1h-1zM571 207h1v1h-1zM1149 207h1v1h-1zM570 208h1v1h-1zM1150 208h1v1h-1zM570 209h1v1h-1zM1150 209h1v1h-1zM569 210h1v1h-1zM1151 210h1v1h-1zM569 211h1v1h-1zM1152 211h1v1h-1zM568 212h1v1h-1zM1152 212h1v1h-1zM568 213h1v1h-1zM1153 213h1v1h-1zM567 214h1v1h-1zM1154 214h1v1h-1zM567 215h1v1h-1zM1154 215h1v1h-1zM566 216h1v1h-1zM1155 216h1v1h-1zM566 217h1v1h-1zM1155 217h1v1h-1zM565 218h1v1h-1zM1156 218h1v1h-1zM565 219h1v1h-1zM1156 219h1v1h-1zM564 220h1v1h-1zM1157 220h1v1h-1zM563 221h1v1h-1zM1158 221h1v1h-1zM562 222h1v1h-1zM1158 222h1v1h-1zM562 223h1v1h-1zM1159 223h1v1h-1zM561 224h1v1h-1zM1159 224h1v1h-1zM561 225h1v1h-1zM1160 225h1v1h-1zM561 226h1v1h-1zM1160 226h1v1h-1zM560 227h1v1h-1zM1161 227h1v1h-1zM560 228h1v1h-1zM1162 228h1v1h-1zM560 229h1v1h-1zM1162 229h1v1h-1zM558 230h2v1h-2zM1163 230h2v1h-2zM557 231h1v1h-1zM1165 231h1v1h-1zM557 232h1v1h-1zM1165 232h1v1h-1zM556 233h1v1h-1zM1166 233h1v1h-1zM555 234h1v1h-1zM1167 234h1v1h-1zM555 235h1v1h-1zM1168 235h1v1h-1zM554 236h1v1h-1zM1168 236h1v1h-1zM553 237h1v1h-1zM1169 237h1v1h-1zM552 238h1v1h-1zM1170 238h1v1h-1zM552 239h1v1h-1zM1171 239h1v1h-1zM551 240h1v1h-1zM1171 240h1v1h-1zM550 241h1v1h-1zM1172 241h1v1h-1zM549 242h1v1h-1zM1173 242h1v1h-1zM548 243h1v1h-1zM1174 243h1v1h-1zM548 244h1v1h-1zM1175 244h1v1h-1zM547 245h1v1h-1zM1176 245h1v1h-1zM546 246h1v1h-1zM1177 246h1v1h-1zM545 247h1v1h-1zM1177 247h1v1h-1zM544 248h1v1h-1zM1178 248h1v1h-1zM542 249h2v1h-2zM1179 249h1v1h-1zM541 250h1v1h-1zM1180 250h1v1h-1zM540 251h1v1h-1zM1181 251h1v1h-1zM540 252h1v1h-1zM1182 252h1v1h-1zM539 253h1v1h-1zM1183 253h1v1h-1zM538 254h1v1h-1zM1184 254h1v1h-1zM536 255h2v1h-2zM1185 255h1v1h-1zM177 256h7v1h-7zM534 256h2v1h-2zM1186 256h1v1h-1zM176 257h1v1h-1zM184 257h2v1h-2zM532 257h2v1h-2zM1187 257h1v1h-1zM173 258h3v1h-3zM186 258h3v1h-3zM531 258h1v1h-1zM1188 258h1v1h-1zM171 259h2v1h-2zM189 259h2v1h-2zM530 259h1v1h-1zM1189 259h1v1h-1zM170 260h1v1h-1zM191 260h3v1h-3zM528 260h2v1h-2zM1190 260h1v1h-1zM169 261h1v1h-1zM194 261h3v1h-3zM527 261h1v1h-1zM1191 261h1v1h-1zM167 262h2v1h-2zM197 262h3v1h-3zM526 262h1v1h-1zM1192 262h1v1h-1zM166 263h1v1h-1zM200 263h2v1h-2zM524 263h2v1h-2zM1193 263h1v1h-1zM165 264h1v1h-1zM202 264h1v1h-1zM523 264h1v1h-1zM1194 264h1v1h-1zM164 265h1v1h-1zM203 265h2v1h-2zM521 265h2v1h-2zM1195 265h2v1h-2zM163 266h1v1h-1zM205 266h2v1h-2zM520 266h1v1h-1zM1197 266h1v1h-1zM162 267h1v1h-1zM207 267h4v1h-4zM520 267h1v1h-1zM1198 267h1v1h-1zM161 268h1v1h-1zM211 268h3v1h-3zM519 268h1v1h-1zM1199 268h2v1h-2zM160 269h1v1h-1zM214 269h5v1h-5zM518 269h1v1h-1zM1201 269h13v1h-13zM158 270h2v1h-2zM219 270h3v1h-3zM516 270h2v1h-2zM1214 270h4v1h-4zM157 271h1v1h-1zM222 271h1v1h-1zM515 271h1v1h-1zM1218 271h1v1h-1zM156 272h1v1h-1zM223 272h1v1h-1zM514 272h1v1h-1zM1219 272h1v1h-1zM1236 272h6v1h-6zM155 273h1v1h-1zM224 273h2v1h-2zM513 273h1v1h-1zM1220 273h1v1h-1zM1235 273h1v1h-1zM1242 273h2v1h-2zM154 274h1v1h-1zM226 274h1v1h-1zM512 274h1v1h-1zM1221 274h1v1h-1zM1234 274h1v1h-1zM1244 274h1v1h-1zM153 275h1v1h-1zM227 275h1v1h-1zM512 275h1v1h-1zM1222 275h2v1h-2zM1233 275h1v1h-1zM1245 275h1v1h-1zM151 276h2v1h-2zM227 276h1v1h-1zM510 276h2v1h-2zM1224 276h1v1h-1zM1232 276h1v1h-1zM1246 276h2v1h-2zM150 277h1v1h-1zM228 277h2v1h-2zM509 277h1v1h-1zM1225 277h1v1h-1zM1230 277h2v1h-2zM1248 277h2v1h-2zM149 278h1v1h-1zM230 278h1v1h-1zM508 278h1v1h-1zM1226 278h1v1h-1zM1228 278h2v1h-2zM1250 278h1v1h-1zM147 279h2v1h-2zM230 279h1v1h-1zM507 279h1v1h-1zM1227 279h1v1h-1zM1251 279h2v1h-2zM145 280h2v1h-2zM231 280h1v1h-1zM507 280h1v1h-1zM1253 280h4v1h-4zM143 281h2v1h-2zM231 281h1v1h-1zM506 281h1v1h-1zM1257 281h9v1h-9zM141 282h2v1h-2zM232 282h1v1h-1zM505 282h1v1h-1zM1266 282h6v1h-6zM136 283h5v1h-5zM233 283h1v1h-1zM505 283h1v1h-1zM1272 283h6v1h-6zM131 284h5v1h-5zM233 284h1v1h-1zM504 284h1v1h-1zM1278 284h3v1h-3zM127 285h4v1h-4zM234 285h1v1h-1zM503 285h1v1h-1zM1281 285h2v1h-2zM123 286h4v1h-4zM235 286h1v1h-1zM503 286h1v1h-1zM1283 286h2v1h-2zM120 287h3v1h-3zM236 287h1v1h-1zM502 287h1v1h-1zM1285 287h2v1h-2zM118 288h2v1h-2zM236 288h1v1h-1zM501 288h1v1h-1zM1287 288h1v1h-1zM117 289h1v1h-1zM237 289h1v1h-1zM501 289h1v1h-1zM1288 289h2v1h-2zM1306 289h6v1h-6zM112 290h5v1h-5zM238 290h1v1h-1zM500 290h1v1h-1zM1290 290h1v1h-1zM1304 290h2v1h-2zM1312 290h3v1h-3zM108 291h4v1h-4zM239 291h1v1h-1zM500 291h1v1h-1zM1291 291h2v1h-2zM1302 291h2v1h-2zM1315 291h3v1h-3zM1320 291h13v1h-13zM105 292h3v1h-3zM239 292h1v1h-1zM499 292h1v1h-1zM1293 292h3v1h-3zM1298 292h4v1h-4zM1318 292h2v1h-2zM1333 292h2v1h-2zM104 293h1v1h-1zM240 293h1v1h-1zM498 293h1v1h-1zM1296 293h2v1h-2zM1335 293h1v1h-1zM102 294h2v1h-2zM241 294h1v1h-1zM498 294h1v1h-1zM1336 294h2v1h-2zM101 295h1v1h-1zM241 295h1v1h-1zM497 295h1v1h-1zM1338 295h1v1h-1zM100 296h1v1h-1zM242 296h1v1h-1zM497 296h1v1h-1zM1339 296h1v1h-1zM99 297h1v1h-1zM243 297h1v1h-1zM496 297h1v1h-1zM1340 297h1v1h-1zM98 298h1v1h-1zM243 298h1v1h-1zM496 298h1v1h-1zM1340 298h1v1h-1zM97 299h1v1h-1zM244 299h1v1h-1zM495 299h1v1h-1zM1341 299h1v1h-1zM96 300h1v1h-1zM245 300h1v1h-1zM495 300h1v1h-1zM1342 300h1v1h-1zM96 301h1v1h-1zM245 301h1v1h-1zM494 301h1v1h-1zM1343 301h1v1h-1zM94 302h2v1h-2zM246 302h1v1h-1zM493 302h1v1h-1zM1344 302h1v1h-1zM93 303h1v1h-1zM247 303h1v1h-1zM493 303h1v1h-1zM1345 303h1v1h-1zM91 304h2v1h-2zM247 304h1v1h-1zM492 304h1v1h-1zM1345 304h1v1h-1zM90 305h1v1h-1zM248 305h1v1h-1zM492 305h1v1h-1zM1346 305h1v1h-1zM87 306h3v1h-3zM249 306h1v1h-1zM491 306h1v1h-1zM1347 306h1v1h-1zM83 307h4v1h-4zM250 307h1v1h-1zM491 307h1v1h-1zM1348 307h1v1h-1zM80 308h3v1h-3zM250 308h1v1h-1zM490 308h1v1h-1zM1349 308h1v1h-1zM79 309h1v1h-1zM251 309h1v1h-1zM490 309h1v1h-1zM1349 309h1v1h-1zM78 310h1v1h-1zM252 310h1v1h-1zM490 310h1v1h-1zM1350 310h1v1h-1zM76 311h2v1h-2zM252 311h1v1h-1zM489 311h1v1h-1zM1351 311h2v1h-2zM75 312h1v1h-1zM253 312h1v1h-1zM489 312h1v1h-1zM1353 312h1v1h-1zM74 313h1v1h-1zM254 313h2v1h-2zM488 313h1v1h-1zM1354 313h1v1h-1zM73 314h1v1h-1zM256 314h1v1h-1zM488 314h1v1h-1zM1355 314h1v1h-1zM73 315h1v1h-1zM257 315h1v1h-1zM487 315h1v1h-1zM1356 315h1v1h-1zM72 316h1v1h-1zM258 316h1v1h-1zM487 316h1v1h-1zM1357 316h1v1h-1zM70 317h2v1h-2zM259 317h3v1h-3zM487 317h1v1h-1zM1358 317h1v1h-1zM68 318h2v1h-2zM262 318h1v1h-1zM486 318h1v1h-1zM1358 318h1v1h-1zM67 319h1v1h-1zM263 319h3v1h-3zM486 319h1v1h-1zM1359 319h2v1h-2zM66 320h1v1h-1zM266 320h3v1h-3zM485 320h1v1h-1zM1361 320h1v1h-1zM65 321h1v1h-1zM269 321h2v1h-2zM485 321h1v1h-1zM1362 321h2v1h-2zM64 322h1v1h-1zM271 322h2v1h-2zM484 322h1v1h-1zM1364 322h2v1h-2zM63 323h1v1h-1zM273 323h1v1h-1zM484 323h1v1h-1zM1366 323h2v1h-2zM63 324h1v1h-1zM274 324h2v1h-2zM483 324h1v1h-1zM1368 324h3v1h-3zM62 325h1v1h-1zM276 325h2v1h-2zM483 325h1v1h-1zM1371 325h1v1h-1zM62 326h1v1h-1zM278 326h1v1h-1zM483 326h1v1h-1zM1372 326h3v1h-3zM61 327h1v1h-1zM279 327h2v1h-2zM482 327h1v1h-1zM1375 327h3v1h-3zM60 328h1v1h-1zM281 328h3v1h-3zM482 328h1v1h-1zM1378 328h2v1h-2zM60 329h1v1h-1zM284 329h3v1h-3zM481 329h1v1h-1zM1380 329h2v1h-2zM59 330h1v1h-1zM287 330h2v1h-2zM481 330h1v1h-1zM1382 330h3v1h-3zM59 331h1v1h-1zM289 331h2v1h-2zM480 331h1v1h-1zM1385 331h2v1h-2zM58 332h1v1h-1zM291 332h1v1h-1zM480 332h1v1h-1zM57 333h1v1h-1zM292 333h2v1h-2zM480 333h1v1h-1zM56 334h1v1h-1zM294 334h1v1h-1zM479 334h1v1h-1zM55 335h1v1h-1zM295 335h2v1h-2zM479 335h1v1h-1zM55 336h1v1h-1zM297 336h1v1h-1zM479 336h1v1h-1zM54 337h1v1h-1zM298 337h1v1h-1zM478 337h1v1h-1zM53 338h1v1h-1zM299 338h1v1h-1zM478 338h1v1h-1zM52 339h1v1h-1zM300 339h1v1h-1zM478 339h1v1h-1zM52 340h1v1h-1zM301 340h2v1h-2zM477 340h1v1h-1zM51 341h1v1h-1zM303 341h2v1h-2zM477 341h1v1h-1zM50 342h1v1h-1zM305 342h2v1h-2zM477 342h1v1h-1zM49 343h1v1h-1zM307 343h2v1h-2zM476 343h1v1h-1zM48 344h1v1h-1zM309 344h3v1h-3zM476 344h1v1h-1zM48 345h1v1h-1zM312 345h7v1h-7zM476 345h1v1h-1zM47 346h1v1h-1zM319 346h5v1h-5zM475 346h1v1h-1zM46 347h1v1h-1zM324 347h5v1h-5zM475 347h1v1h-1zM44 348h2v1h-2zM329 348h1v1h-1zM474 348h1v1h-1zM43 349h1v1h-1zM330 349h2v1h-2zM359 349h5v1h-5zM473 349h1v1h-1zM42 350h1v1h-1zM332 350h1v1h-1zM356 350h3v1h-3zM364 350h1v1h-1zM473 350h1v1h-1zM40 351h2v1h-2zM332 351h1v1h-1zM355 351h1v1h-1zM365 351h1v1h-1zM472 351h1v1h-1zM39 352h1v1h-1zM333 352h1v1h-1zM354 352h1v1h-1zM366 352h1v1h-1zM472 352h1v1h-1zM37 353h2v1h-2zM334 353h1v1h-1zM353 353h1v1h-1zM366 353h1v1h-1zM471 353h1v1h-1zM35 354h2v1h-2zM335 354h1v1h-1zM351 354h2v1h-2zM367 354h1v1h-1zM471 354h1v1h-1zM34 355h1v1h-1zM336 355h2v1h-2zM349 355h2v1h-2zM368 355h1v1h-1zM470 355h1v1h-1zM33 356h1v1h-1zM338 356h4v1h-4zM346 356h3v1h-3zM368 356h1v1h-1zM470 356h1v1h-1zM32 357h1v1h-1zM342 357h4v1h-4zM369 357h2v1h-2zM470 357h1v1h-1zM31 358h1v1h-1zM371 358h1v1h-1zM469 358h1v1h-1zM30 359h1v1h-1zM372 359h1v1h-1zM469 359h1v1h-1zM29 360h1v1h-1zM373 360h1v1h-1zM468 360h1v1h-1zM28 361h1v1h-1zM374 361h2v1h-2zM468 361h1v1h-1zM27 362h1v1h-1zM376 362h2v1h-2zM467 362h1v1h-1zM26 363h1v1h-1zM378 363h1v1h-1zM467 363h1v1h-1zM25 364h1v1h-1zM379 364h1v1h-1zM466 364h1v1h-1zM24 365h1v1h-1zM380 365h2v1h-2zM466 365h1v1h-1zM22 366h2v1h-2zM382 366h1v1h-1zM465 366h1v1h-1zM21 367h1v1h-1zM382 367h1v1h-1zM465 367h1v1h-1zM19 368h2v1h-2zM383 368h2v1h-2zM465 368h1v1h-1zM18 369h1v1h-1zM385 369h1v1h-1zM464 369h1v1h-1zM17 370h1v1h-1zM386 370h1v1h-1zM464 370h1v1h-1zM16 371h1v1h-1zM387 371h1v1h-1zM463 371h1v1h-1zM14 372h2v1h-2zM388 372h1v1h-1zM463 372h1v1h-1zM12 373h2v1h-2zM389 373h1v1h-1zM462 373h1v1h-1zM10 374h2v1h-2zM390 374h1v1h-1zM462 374h1v1h-1zM9 375h1v1h-1zM390 375h1v1h-1zM461 375h1v1h-1zM9 376h1v1h-1zM391 376h1v1h-1zM461 376h1v1h-1zM8 377h1v1h-1zM392 377h2v1h-2zM460 377h1v1h-1zM6 378h2v1h-2zM394 378h1v1h-1zM460 378h1v1h-1zM5 379h1v1h-1zM395 379h1v1h-1zM460 379h1v1h-1zM5 380h1v1h-1zM396 380h1v1h-1zM459 380h1v1h-1zM4 381h1v1h-1zM397 381h1v1h-1zM459 381h1v1h-1zM3 382h1v1h-1zM398 382h1v1h-1zM458 382h1v1h-1zM399 383h1v1h-1zM458 383h1v1h-1zM400 384h1v1h-1zM457 384h1v1h-1zM401 385h1v1h-1zM457 385h1v1h-1zM402 386h1v1h-1zM456 386h1v1h-1zM402 387h1v1h-1zM456 387h1v1h-1zM403 388h1v1h-1zM455 388h1v1h-1zM404 389h1v1h-1zM455 389h1v1h-1zM405 390h2v1h-2zM455 390h1v1h-1zM407 391h1v1h-1zM454 391h1v1h-1zM408 392h1v1h-1zM454 392h1v1h-1zM409 393h1v1h-1zM453 393h1v1h-1zM410 394h1v1h-1zM453 394h1v1h-1zM411 395h1v1h-1zM452 395h1v1h-1zM412 396h1v1h-1zM452 396h1v1h-1zM413 397h1v1h-1zM451 397h1v1h-1zM414 398h1v1h-1zM451 398h1v1h-1zM415 399h4v1h-4zM450 399h1v1h-1zM419 400h1v1h-1zM450 400h1v1h-1zM420 401h2v1h-2zM450 401h1v1h-1zM422 402h1v1h-1zM449 402h1v1h-1zM423 403h1v1h-1zM448 403h1v1h-1zM424 404h1v1h-1zM448 404h1v1h-1zM425 405h2v1h-2zM447 405h1v1h-1zM427 406h1v1h-1zM446 406h1v1h-1zM428 407h1v1h-1zM446 407h1v1h-1zM429 408h2v1h-2zM445 408h1v1h-1zM431 409h1v1h-1zM445 409h1v1h-1zM431 410h1v1h-1zM444 410h1v1h-1zM432 411h2v1h-2zM443 411h1v1h-1zM434 412h2v1h-2zM441 412h2v1h-2zM436 413h5v1h-5zM438 414h1v1h-1z" fill="#c71585"/>
<path d="M971 20h1v1h-1zM972 21h1v1h-1zM973 22h1v1h-1zM977 24h1v1h-1zM978 25h1v1h-1zM979 25h1v1h-1zM983 28h1v1h-1zM984 29h1v1h-1zM985 29h1v1h-1zM989 32h1v1h-1zM990 33h1v1h-1zM991 33h1v1h-1zM995 36h1v1h-1zM996 36h1v1h-1zM997 37h1v1h-1zM1001 40h1v1h-1zM1002 40h1v1h-1zM1003 41h1v1h-1zM1007 44h1v1h-1zM1008 44h1v1h-1zM1009 45h1v1h-1zM1013 48h1v1h-1zM1014 48h1v1h-1zM1015 49h1v1h-1zM1019 51h1v1h-1zM1020 52h1v1h-1zM1021 53h1v1h-1zM1025 55h1v1h-1zM1026 56h1v1h-1zM1027 57h1v1h-1zM1031 59h1v1h-1zM1032 60h1v1h-1zM1033 61h1v1h-1zM1037 63h1v1h-1zM1038 64h1v1h-1zM1039 65h1v1h-1zM1043 67h1v1h-1zM1044 68h1v1h-1zM1045 68h1v1h-1zM1049 71h1v1h-1zM1050 72h1v1h-1zM1051 72h1v1h-1zM1055 75h1v1h-1zM1056 76h1v1h-1zM1057 76h1v1h-1zM1061 79h1v1h-1zM1062 79h1v1h-1zM1063 80h1v1h-1zM1067 83h1v1h-1zM1068 83h1v1h-1zM1069 84h1v1h-1zM1073 87h1v1h-1zM1074 87h1v1h-1zM1075 88h1v1h-1zM1079 91h1v1h-1zM1080 91h1v1h-1zM1081 92h1v1h-1zM1085 94h1v1h-1zM1086 95h1v1h-1zM1087 96h1v1h-1zM1091 98h1v1h-1zM1092 99h1v1h-1zM1093 100h1v1h-1zM1097 102h1v1h-1zM1098 103h1v1h-1zM1099 104h1v1h-1zM1103 106h1v1h-1zM1104 107h1v1h-1zM1105 108h1v1h-1zM1109 110h1v1h-1zM1110 111h1v1h-1zM1111 111h1v1h-1zM1115 114h1v1h-1zM1116 115h1v1h-1zM1117 115h1v1h-1zM1121 118h1v1h-1zM1122 119h1v1h-1zM1123 119h1v1h-1zM1127 122h1v1h-1zM1128 122h1v1h-1zM1129 123h1v1h-1zM1133 126h1v1h-1zM1134 126h1v1h-1zM1135 127h1v1h-1zM1139 130h1v1h-1zM1140 130h1v1h-1zM1141 131h1v1h-1zM1145 134h1v1h-1zM1146 134h1v1h-1zM1147 135h1v1h-1zM1151 137h1v1h-1zM1152 138h1v1h-1zM1153 139h1v1h-1zM1157 141h1v1h-1zM1158 142h1v1h-1zM1159 143h1v1h-1zM1163 145h1v1h-1zM1164 146h1v1h-1zM1165 147h1v1h-1zM1169 149h1v1h-1zM1170 150h1v1h-1zM1171 150h1v1h-1zM1175 153h1v1h-1zM1176 154h1v1h-1zM1177 154h1v1h-1zM1181 157h1v1h-1zM1182 158h1v1h-1zM1183 158h1v1h-1zM1187 161h1v1h-1zM1188 162h1v1h-1zM1189 162h1v1h-1zM1193 165h1v1h-1zM1194 165h1v1h-1zM1195 166h1v1h-1zM1199 169h1v1h-1zM1200 169h1v1h-1zM1201 170h1v1h-1zM1205 173h1v1h-1zM1206 173h1v1h-1zM1207 174h1v1h-1zM1211 177h1v1h-1zM1212 177h1v1h-1zM1213 178h1v1h-1zM1217 180h1v1h-1zM1218 181h1v1h-1zM1219 182h1v1h-1zM1223 184h1v1h-1zM1224 185h1v1h-1zM1225 186h1v1h-1zM1229 188h1v1h-1zM1230 189h1v1h-1zM1231 190h1v1h-1zM1235 192h1v1h-1zM1236 193h1v1h-1zM1237 193h1v1h-1zM1241 196h1v1h-1zM1242 197h1v1h-1zM1243 197h1v1h-1zM1247 200h1v1h-1zM1248 201h1v1h-1zM1249 201h1v1h-1zM1253 204h1v1h-1zM1254 205h1v1h-1zM1255 205h1v1h-1zM1259 208h1v1h-1zM1260 208h1v1h-1zM1261 209h1v1h-1zM1265 212h1v1h-1zM1266 212h1v1h-1zM1267 213h1v1h-1zM1271 216h1v1h-1zM1272 216h1v1h-1zM1273 217h1v1h-1zM1277 220h1v1h-1zM1278 220h1v1h-1zM1279 221h1v1h-1zM1283 223h1v1h-1zM1284 224h1v1h-1zM1285 225h1v1h-1zM1289 227h1v1h-1zM1290 228h1v1h-1zM1291 229h1v1h-1zM1295 231h1v1h-1zM1296 232h1v1h-1zM1297 233h1v1h-1zM1301 235h1v1h-1zM1302 236h1v1h-1zM1303 236h1v1h-1zM1307 239h1v1h-1zM1308 240h1v1h-1zM1309 240h1v1h-1zM1313 243h1v1h-1zM1314 244h1v1h-1zM1315 244h1v1h-1zM1319 247h1v1h-1zM1320 248h1v1h-1zM1321 248h1v1h-1zM1325 251h1v1h-1zM1326 251h1v1h-1zM1327 252h1v1h-1zM1331 255h1v1h-1zM1332 255h1v1h-1zM1333 256h1v1h-1zM1337 259h1v1h-1zM1338 259h1v1h-1zM1339 260h1v1h-1zM1343 263h1v1h-1zM1344 263h1v1h-1zM1345 264h1v1h-1zM1349 266h1v1h-1zM1350 267h1v1h-1zM1351 268h1v1h-1zM1355 270h1v1h-1zM1356 271h1v1h-1zM1357 272h1v1h-1zM1361 274h1v1h-1zM1362 275h1v1h-1zM1363 276h1v1h-1zM1367 278h1v1h-1zM1368 279h1v1h-1zM1369 279h1v1h-1zM1373 282h1v1h-1zM1374 283h1v1h-1zM1375 283h1v1h-1zM1379 286h1v1h-1zM1380 287h1v1h-1zM1381 287h1v1h-1zM1385 290h1v1h-1zM1386 291h1v1h-1zM1387 291h1v1h-1zM1391 294h1v1h-1zM1392 294h1v1h-1zM1393 295h1v1h-1z" fill="#000"/>
<rect x="3" y="19" width="697" height="2" fill="#0000ff"/><rect x="699" y="18" width="697" height="2" fill="#0000ff"/><rect x="3" y="492" width="1393" height="2" fill="#0000ff"/>
<path d="M3 328h1v26h-1zM2 342h3v10h-3zM7 315h1v33h-1zM6 327h3v20h-3zM11 326h1v11h-1zM10 327h3v4h-3zM15 329h1v14h-1zM14 333h3v9h-3zM19 328h1v14h-1zM18 332h3v6h-3zM23 320h1v17h-1zM22 320h3v16h-3zM27 308h1v18h-1zM26 313h3v12h-3zM31 294h1v23h-1zM30 299h3v17h-3zM35 295h1v13h-1zM34 301h3v2h-3zM39 293h1v21h-1zM38 302h3v11h-3zM43 302h1v15h-1zM42 309h3v7h-3zM47 302h1v18h-1zM46 309h3v4h-3zM51 302h1v26h-1zM50 305h3v8h-3zM55 302h1v12h-1zM54 303h3v1h-3zM59 282h1v28h-1zM58 289h3v18h-3zM63 273h1v22h-1zM62 275h3v16h-3zM67 270h1v22h-1zM66 274h3v10h-3zM71 279h1v17h-1zM70 285h3v4h-3zM75 281h1v43h-1zM74 288h3v25h-3zM79 285h1v31h-1zM78 287h3v28h-3zM83 280h1v46h-1zM82 288h3v33h-3zM87 300h1v22h-1zM86 315h3v5h-3zM91 282h1v36h-1zM90 283h3v34h-3zM95 266h1v22h-1zM94 267h3v16h-3zM99 239h1v30h-1zM98 241h3v27h-3zM103 247h1v25h-1zM102 254h3v17h-3zM107 270h1v14h-1zM106 273h3v3h-3zM111 273h1v10h-1zM110 274h3v1h-3zM115 273h1v10h-1zM114 275h3v6h-3zM119 273h1v14h-1zM118 282h3v3h-3zM123 273h1v23h-1zM122 275h3v8h-3zM127 273h1v16h-1zM126 275h3v8h-3zM131 269h1v14h-1zM130 277h3v4h-3zM135 273h1v23h-1zM134 274h3v18h-3zM139 267h1v32h-1zM138 287h3v8h-3zM143 255h1v41h-1zM142 255h3v40h-3zM147 237h1v24h-1zM146 241h3v19h-3zM151 217h1v31h-1zM150 223h3v21h-3zM155 216h1v21h-1zM154 223h3v10h-3zM159 211h1v28h-1zM158 213h3v24h-3zM163 187h1v84h-1zM162 214h3v51h-3zM167 203h1v68h-1zM166 205h3v58h-3zM171 201h1v37h-1zM170 208h3v19h-3zM175 215h1v30h-1zM174 224h3v12h-3zM179 216h1v23h-1zM178 221h3v14h-3zM183 207h1v80h-1zM182 220h3v60h-3zM187 273h1v91h-1zM186 279h3v35h-3zM191 303h1v18h-1zM190 308h3v7h-3zM195 311h1v20h-1zM194 312h3v10h-3zM199 293h1v26h-1zM198 308h3v8h-3zM203 308h1v29h-1zM202 312h3v21h-3zM207 306h1v23h-1zM206 319h3v9h-3zM211 298h1v24h-1zM210 302h3v20h-3zM215 300h1v14h-1zM214 303h3v2h-3zM219 285h1v26h-1zM218 296h3v11h-3zM223 293h1v22h-1zM222 296h3v14h-3zM227 302h1v19h-1zM226 307h3v2h-3zM231 294h1v59h-1zM230 305h3v37h-3zM235 325h1v24h-1zM234 338h3v8h-3zM239 343h1v19h-1zM238 347h3v2h-3zM243 331h1v20h-1zM242 343h3v6h-3zM247 348h1v21h-1zM246 348h3v6h-3zM251 325h1v31h-1zM250 328h3v25h-3zM255 294h1v85h-1zM254 299h3v28h-3zM259 260h1v43h-1zM258 293h3v5h-3zM263 279h1v70h-1zM262 292h3v25h-3zM267 279h1v54h-1zM266 314h3v12h-3zM271 320h1v73h-1zM270 321h3v51h-3zM275 325h1v70h-1zM274 346h3v23h-3zM279 309h1v63h-1zM278 348h3v16h-3zM283 351h1v16h-1zM282 361h3v6h-3zM287 298h1v63h-1zM286 326h3v34h-3zM291 322h1v50h-1zM290 326h3v41h-3zM295 352h1v17h-1zM294 358h3v9h-3zM299 360h1v12h-1zM298 361h3v6h-3zM303 361h1v11h-1zM302 363h3v6h-3zM307 353h1v9h-1zM306 354h3v7h-3zM311 358h1v14h-1zM310 359h3v10h-3zM315 355h1v17h-1zM314 361h3v6h-3zM319 350h1v20h-1zM318 361h3v8h-3zM323 332h1v37h-1zM322 353h3v14h-3zM327 345h1v17h-1zM326 358h3v2h-3zM331 348h1v48h-1zM330 357h3v34h-3zM335 368h1v28h-1zM334 371h3v22h-3zM339 356h1v21h-1zM338 368h3v5h-3zM343 308h1v67h-1zM342 315h3v60h-3zM347 300h1v52h-1zM346 311h3v15h-3zM351 254h1v92h-1zM350 314h3v16h-3zM355 290h1v30h-1zM354 302h3v17h-3zM359 290h1v35h-1zM358 298h3v18h-3zM363 305h1v69h-1zM362 318h3v21h-3zM367 326h1v132h-1zM366 338h3v119h-3zM371 409h1v76h-1zM370 418h3v38h-3zM375 409h1v22h-1zM374 417h3v4h-3zM379 412h1v20h-1zM378 427h3v4h-3zM383 412h1v27h-1zM382 420h3v11h-3zM387 413h1v30h-1zM386 424h3v15h-3zM391 426h1v19h-1zM390 438h3v1h-3zM395 432h1v11h-1zM394 438h3v4h-3zM399 436h1v30h-1zM398 438h3v25h-3zM403 446h1v20h-1zM402 446h3v11h-3zM407 440h1v13h-1zM406 446h3v5h-3zM411 426h1v40h-1zM410 444h3v12h-3zM415 427h1v45h-1zM414 437h3v17h-3zM419 390h1v53h-1zM418 399h3v40h-3zM423 374h1v28h-1zM422 378h3v22h-3zM427 374h1v28h-1zM426 378h3v16h-3zM431 368h1v30h-1zM430 372h3v20h-3zM435 350h1v34h-1zM434 366h3v7h-3zM439 320h1v58h-1zM438 346h3v21h-3zM443 284h1v64h-1zM442 287h3v57h-3zM447 277h1v34h-1zM446 286h3v13h-3zM451 288h1v32h-1zM450 296h3v12h-3zM455 255h1v56h-1zM454 264h3v41h-3zM459 246h1v32h-1zM458 254h3v10h-3zM463 239h1v32h-1zM462 253h3v11h-3zM467 250h1v19h-1zM466 259h3v10h-3zM471 237h1v21h-1zM470 250h3v5h-3zM475 243h1v12h-1zM474 247h3v3h-3zM479 243h1v14h-1zM478 246h3v3h-3zM483 246h1v9h-1zM482 253h3v2h-3zM487 251h1v13h-1zM486 253h3v9h-3zM491 255h1v17h-1zM490 259h3v13h-3zM495 267h1v11h-1zM494 273h3v3h-3zM499 257h1v19h-1zM498 263h3v12h-3zM503 249h1v26h-1zM502 263h3v6h-3zM507 231h1v43h-1zM506 251h3v19h-3zM511 239h1v30h-1zM510 254h3v13h-3zM515 244h1v30h-1zM514 263h3v6h-3zM519 253h1v23h-1zM518 268h3v5h-3zM523 250h1v25h-1zM522 257h3v17h-3zM527 224h1v32h-1zM526 247h3v8h-3zM531 234h1v38h-1zM530 244h3v5h-3zM535 214h1v37h-1zM534 218h3v31h-3zM539 178h1v54h-1zM538 190h3v32h-3zM543 176h1v19h-1zM542 188h3v3h-3zM547 178h1v26h-1zM546 185h3v7h-3zM551 156h1v43h-1zM550 156h3v40h-3zM555 146h1v20h-1zM554 151h3v7h-3zM559 78h1v68h-1zM558 105h3v40h-3zM563 74h1v38h-1zM562 88h3v19h-3zM567 84h1v20h-1zM566 86h3v14h-3zM571 98h1v11h-1zM570 100h3v8h-3zM575 104h1v18h-1zM574 106h3v16h-3zM579 110h1v11h-1zM578 118h3v1h-3zM583 110h1v9h-1zM582 112h3v5h-3zM587 105h1v14h-1zM586 110h3v3h-3zM591 96h1v25h-1zM590 113h3v7h-3zM595 90h1v32h-1zM594 112h3v5h-3zM599 94h1v23h-1zM598 107h3v3h-3zM603 93h1v24h-1zM602 103h3v10h-3zM607 90h1v17h-1zM606 94h3v7h-3zM611 93h1v14h-1zM610 96h3v4h-3zM615 90h1v14h-1zM614 94h3v8h-3zM619 93h1v67h-1zM618 99h3v55h-3zM623 124h1v36h-1zM622 140h3v16h-3zM627 123h1v23h-1zM626 131h3v8h-3zM631 125h1v17h-1zM630 135h3v6h-3zM635 119h1v29h-1zM634 119h3v23h-3zM639 115h1v29h-1zM638 118h3v25h-3zM643 140h1v61h-1zM642 141h3v22h-3zM647 152h1v15h-1zM646 159h3v6h-3zM651 153h1v19h-1zM650 161h3v10h-3zM655 143h1v20h-1zM654 145h3v16h-3zM659 116h1v31h-1zM658 125h3v19h-3zM663 127h1v15h-1zM662 129h3v11h-3zM667 125h1v17h-1zM666 130h3v11h-3zM671 125h1v9h-1zM670 130h3v3h-3zM675 119h1v16h-1zM674 123h3v9h-3zM679 119h1v6h-1zM678 120h3v4h-3zM683 119h1v29h-1zM682 120h3v22h-3zM687 123h1v21h-1zM686 139h3v1h-3zM691 142h1v29h-1zM690 142h3v29h-3zM695 159h1v12h-1zM694 164h3v2h-3zM699 158h1v14h-1zM698 162h3v2h-3zM703 135h1v28h-1zM702 149h3v11h-3zM707 137h1v26h-1zM706 149h3v10h-3zM711 132h1v52h-1zM710 156h3v23h-3zM715 143h1v55h-1zM714 146h3v29h-3zM719 138h1v28h-1zM718 145h3v10h-3zM723 119h1v34h-1zM722 133h3v18h-3zM727 107h1v32h-1zM726 113h3v24h-3zM731 105h1v27h-1zM730 117h3v3h-3zM735 102h1v68h-1zM734 118h3v46h-3zM739 151h1v15h-1zM738 158h3v7h-3zM743 161h1v9h-1zM742 163h3v3h-3zM747 151h1v17h-1zM746 151h3v13h-3zM751 143h1v17h-1zM750 149h3v10h-3zM755 161h1v9h-1zM754 161h3v4h-3zM759 150h1v16h-1zM758 157h3v7h-3zM763 155h1v4h-1zM762 155h3v3h-3zM767 149h1v17h-1zM766 155h3v5h-3zM771 149h1v17h-1zM770 149h3v9h-3zM775 143h1v16h-1zM774 148h3v5h-3zM779 143h1v23h-1zM778 146h3v7h-3zM783 130h1v21h-1zM782 136h3v13h-3zM787 131h1v15h-1zM786 136h3v7h-3zM791 130h1v19h-1zM790 136h3v8h-3zM795 131h1v19h-1zM794 139h3v7h-3zM799 131h1v26h-1zM798 137h3v6h-3zM803 97h1v60h-1zM802 119h3v18h-3zM807 99h1v27h-1zM806 111h3v8h-3zM811 97h1v35h-1zM810 113h3v18h-3zM815 124h1v42h-1zM814 124h3v36h-3zM819 136h1v34h-1zM818 143h3v20h-3zM823 109h1v37h-1zM822 118h3v27h-3zM827 103h1v19h-1zM826 117h3v4h-3zM831 122h1v15h-1zM830 122h3v12h-3zM835 96h1v29h-1zM834 110h3v12h-3zM839 110h1v9h-1zM838 111h3v7h-3zM843 105h1v14h-1zM842 106h3v11h-3zM847 103h1v12h-1zM846 107h3v7h-3zM851 112h1v7h-1zM850 113h3v5h-3zM855 107h1v12h-1zM854 112h3v6h-3zM859 102h1v13h-1zM858 102h3v11h-3zM863 102h1v16h-1zM862 105h3v8h-3zM867 110h1v12h-1zM866 112h3v1h-3zM871 102h1v19h-1zM870 111h3v2h-3zM875 68h1v47h-1zM874 76h3v38h-3zM879 68h1v15h-1zM878 78h3v1h-3zM883 76h1v11h-1zM882 78h3v2h-3zM887 78h1v11h-1zM886 80h3v2h-3zM891 66h1v17h-1zM890 74h3v7h-3zM895 70h1v15h-1zM894 76h3v7h-3zM899 76h1v7h-1zM898 79h3v3h-3zM903 78h1v8h-1zM902 80h3v1h-3zM907 85h1v14h-1zM906 86h3v9h-3zM911 90h1v7h-1zM910 90h3v4h-3zM915 81h1v17h-1zM914 83h3v13h-3zM919 84h1v7h-1zM918 85h3v3h-3zM923 84h1v8h-1zM922 84h3v8h-3zM927 89h1v20h-1zM926 89h3v18h-3zM931 96h1v11h-1zM930 97h3v9h-3zM935 87h1v11h-1zM934 90h3v3h-3zM939 87h1v4h-1zM938 87h3v4h-3zM943 74h1v25h-1zM942 87h3v11h-3zM947 83h1v16h-1zM946 93h3v2h-3zM951 84h1v14h-1zM950 89h3v3h-3zM955 84h1v14h-1zM954 87h3v7h-3zM959 72h1v21h-1zM958 86h3v2h-3zM963 81h1v14h-1zM962 83h3v10h-3zM967 55h1v46h-1zM966 63h3v30h-3zM971 37h1v29h-1zM970 55h3v11h-3zM975 40h1v26h-1zM974 58h3v7h-3zM979 48h1v101h-1zM978 64h3v72h-3zM983 119h1v19h-1zM982 135h3v2h-3zM987 93h1v28h-1zM986 118h3v1h-3zM991 103h1v16h-1zM990 113h3v4h-3zM995 110h1v14h-1zM994 112h3v2h-3zM999 105h1v14h-1zM998 109h3v5h-3zM1003 109h1v16h-1zM1002 112h3v12h-3zM1007 118h1v13h-1zM1006 123h3v4h-3zM1011 120h1v17h-1zM1010 127h3v10h-3zM1015 117h1v20h-1zM1014 118h3v16h-3zM1019 93h1v28h-1zM1018 93h3v21h-3zM1023 92h1v53h-1zM1022 94h3v44h-3zM1027 126h1v16h-1zM1026 135h3v5h-3zM1031 135h1v28h-1zM1030 136h3v13h-3zM1035 135h1v16h-1zM1034 144h3v3h-3zM1039 123h1v37h-1zM1038 125h3v22h-3zM1043 123h1v13h-1zM1042 123h3v9h-3zM1047 102h1v70h-1zM1046 131h3v15h-3zM1051 119h1v47h-1zM1050 121h3v22h-3zM1055 96h1v41h-1zM1054 104h3v19h-3zM1059 78h1v29h-1zM1058 86h3v20h-3zM1063 85h1v39h-1zM1062 85h3v35h-3zM1067 122h1v35h-1zM1066 123h3v11h-3zM1071 131h1v88h-1zM1070 136h3v55h-3zM1075 181h1v11h-1zM1074 184h3v4h-3zM1079 166h1v23h-1zM1078 174h3v13h-3zM1083 168h1v18h-1zM1082 170h3v6h-3zM1087 163h1v18h-1zM1086 169h3v7h-3zM1091 172h1v11h-1zM1090 175h3v7h-3zM1095 172h1v11h-1zM1094 181h3v2h-3zM1099 177h1v10h-1zM1098 177h3v2h-3zM1103 175h1v14h-1zM1102 181h3v8h-3zM1107 178h1v13h-1zM1106 186h3v3h-3zM1111 175h1v14h-1zM1110 183h3v6h-3zM1115 178h1v18h-1zM1114 184h3v11h-3zM1119 190h1v35h-1zM1118 196h3v24h-3zM1123 218h1v28h-1zM1122 218h3v26h-3zM1127 240h1v24h-1zM1126 243h3v6h-3zM1131 240h1v22h-1zM1130 241h3v8h-3zM1135 237h1v41h-1zM1134 243h3v28h-3zM1139 203h1v73h-1zM1138 223h3v48h-3zM1143 203h1v33h-1zM1142 223h3v7h-3zM1147 217h1v97h-1zM1146 227h3v60h-3zM1151 264h1v40h-1zM1150 285h3v19h-3zM1155 292h1v39h-1zM1154 301h3v25h-3zM1159 279h1v67h-1zM1158 290h3v32h-3zM1163 253h1v66h-1zM1162 276h3v14h-3zM1167 273h1v17h-1zM1166 274h3v13h-3zM1171 270h1v14h-1zM1170 276h3v6h-3zM1175 263h1v19h-1zM1174 264h3v17h-3zM1179 262h1v38h-1zM1178 262h3v21h-3zM1183 264h1v17h-1zM1182 264h3v17h-3zM1187 255h1v14h-1zM1186 262h3v1h-3zM1191 261h1v11h-1zM1190 264h3v5h-3zM1195 264h1v20h-1zM1194 266h3v11h-3zM1199 255h1v21h-1zM1198 255h3v19h-3zM1203 241h1v20h-1zM1202 255h3v5h-3zM1207 246h1v20h-1zM1206 248h3v6h-3zM1211 234h1v22h-1zM1210 244h3v12h-3zM1215 250h1v33h-1zM1214 251h3v17h-3zM1219 266h1v21h-1zM1218 266h3v15h-3zM1223 276h1v50h-1zM1222 276h3v43h-3zM1227 308h1v53h-1zM1226 319h3v20h-3zM1231 269h1v97h-1zM1230 269h3v76h-3zM1235 191h1v78h-1zM1234 211h3v57h-3zM1239 202h1v95h-1zM1238 210h3v79h-3zM1243 287h1v46h-1zM1242 291h3v6h-3zM1247 288h1v158h-1zM1246 296h3v78h-3zM1251 314h1v73h-1zM1250 337h3v37h-3zM1255 235h1v107h-1zM1254 281h3v58h-3zM1259 268h1v16h-1zM1258 275h3v8h-3zM1263 273h1v9h-1zM1262 274h3v2h-3zM1267 270h1v13h-1zM1266 275h3v2h-3zM1271 273h1v16h-1zM1270 278h3v5h-3zM1275 273h1v13h-1zM1274 283h3v1h-3zM1279 269h1v16h-1zM1278 280h3v4h-3zM1283 278h1v11h-1zM1282 282h3v7h-3zM1287 285h1v21h-1zM1286 287h3v14h-3zM1291 293h1v15h-1zM1290 299h3v8h-3zM1295 295h1v28h-1zM1294 305h3v14h-3zM1299 281h1v42h-1zM1298 282h3v38h-3zM1303 269h1v20h-1zM1302 273h3v8h-3zM1307 273h1v19h-1zM1306 273h3v11h-3zM1311 270h1v27h-1zM1310 283h3v1h-3zM1315 268h1v21h-1zM1314 270h3v16h-3zM1319 250h1v83h-1zM1318 269h3v64h-3zM1323 285h1v76h-1zM1322 289h3v48h-3zM1327 280h1v101h-1zM1326 289h3v51h-3zM1331 309h1v63h-1zM1330 312h3v26h-3zM1335 301h1v36h-1zM1334 312h3v9h-3zM1339 314h1v50h-1zM1338 320h3v18h-3zM1343 332h1v64h-1zM1342 333h3v45h-3zM1347 329h1v60h-1zM1346 374h3v4h-3zM1351 370h1v14h-1zM1350 377h3v2h-3zM1355 351h1v18h-1zM1354 354h3v6h-3zM1359 345h1v16h-1zM1358 350h3v10h-3zM1363 340h1v17h-1zM1362 344h3v9h-3zM1367 338h1v14h-1zM1366 348h3v1h-3zM1371 320h1v29h-1zM1370 333h3v15h-3zM1375 322h1v18h-1zM1374 329h3v8h-3zM1379 318h1v13h-1zM1378 326h3v3h-3zM1383 319h1v12h-1zM1382 321h3v10h-3zM1387 305h1v21h-1zM1386 312h3v13h-3z" fill="#000"/>
<path d="M3 343h1v8h-1zM7 328h1v18h-1zM11 328h1v2h-1zM15 334h1v7h-1zM23 321h1v14h-1zM27 314h1v10h-1zM31 300h1v15h-1zM47 310h1v2h-1zM51 306h1v6h-1zM59 290h1v16h-1zM63 276h1v14h-1zM71 286h1v2h-1zM79 288h1v26h-1zM91 284h1v32h-1zM95 268h1v14h-1zM99 242h1v25h-1zM123 276h1v6h-1zM131 278h1v2h-1zM143 256h1v38h-1zM147 242h1v17h-1zM151 224h1v19h-1zM159 214h1v22h-1zM167 206h1v56h-1zM179 222h1v12h-1zM191 309h1v5h-1zM195 313h1v8h-1zM199 309h1v6h-1zM207 320h1v7h-1zM211 303h1v18h-1zM219 297h1v9h-1zM251 329h1v23h-1zM255 300h1v26h-1zM259 294h1v3h-1zM275 347h1v21h-1zM283 362h1v4h-1zM287 327h1v32h-1zM295 359h1v7h-1zM303 364h1v4h-1zM307 355h1v5h-1zM315 362h1v4h-1zM323 354h1v12h-1zM335 372h1v20h-1zM343 316h1v58h-1zM351 315h1v14h-1zM355 303h1v15h-1zM371 419h1v36h-1zM379 428h1v2h-1zM383 421h1v9h-1zM395 439h1v2h-1zM403 447h1v9h-1zM407 447h1v3h-1zM415 438h1v15h-1zM419 400h1v38h-1zM423 379h1v20h-1zM431 373h1v18h-1zM435 367h1v5h-1zM439 347h1v19h-1zM443 288h1v55h-1zM455 265h1v39h-1zM459 255h1v8h-1zM467 260h1v8h-1zM471 251h1v3h-1zM475 248h1v1h-1zM499 264h1v10h-1zM507 252h1v17h-1zM523 258h1v15h-1zM527 248h1v6h-1zM535 219h1v29h-1zM539 191h1v30h-1zM543 189h1v1h-1zM551 157h1v38h-1zM555 152h1v5h-1zM559 106h1v38h-1zM563 89h1v17h-1zM583 113h1v3h-1zM587 111h1v1h-1zM595 113h1v3h-1zM599 108h1v1h-1zM603 104h1v8h-1zM607 95h1v5h-1zM611 97h1v2h-1zM623 141h1v14h-1zM627 132h1v6h-1zM635 120h1v21h-1zM651 162h1v8h-1zM655 146h1v14h-1zM659 126h1v17h-1zM667 131h1v9h-1zM671 131h1v1h-1zM675 124h1v7h-1zM703 150h1v9h-1zM715 147h1v27h-1zM723 134h1v16h-1zM727 114h1v22h-1zM739 159h1v5h-1zM743 164h1v1h-1zM747 152h1v11h-1zM759 158h1v5h-1zM763 156h1v1h-1zM767 156h1v3h-1zM771 150h1v7h-1zM779 147h1v5h-1zM783 137h1v11h-1zM791 137h1v6h-1zM799 138h1v4h-1zM803 120h1v16h-1zM807 112h1v6h-1zM819 144h1v18h-1zM823 119h1v25h-1zM835 111h1v10h-1zM843 107h1v9h-1zM855 113h1v4h-1zM859 103h1v9h-1zM875 77h1v36h-1zM891 75h1v5h-1zM915 84h1v11h-1zM931 98h1v7h-1zM935 91h1v1h-1zM955 88h1v5h-1zM967 64h1v28h-1zM971 56h1v9h-1zM1015 119h1v14h-1zM1019 94h1v19h-1zM1027 136h1v3h-1zM1035 145h1v1h-1zM1039 126h1v20h-1zM1051 122h1v20h-1zM1055 105h1v17h-1zM1059 87h1v18h-1zM1075 185h1v2h-1zM1079 175h1v11h-1zM1083 171h1v4h-1zM1107 187h1v1h-1zM1111 184h1v4h-1zM1131 242h1v6h-1zM1139 224h1v46h-1zM1159 291h1v30h-1zM1163 277h1v12h-1zM1171 277h1v4h-1zM1175 265h1v15h-1zM1183 265h1v15h-1zM1199 256h1v17h-1zM1203 256h1v3h-1zM1207 249h1v4h-1zM1231 270h1v74h-1zM1235 212h1v55h-1zM1251 338h1v35h-1zM1255 282h1v56h-1zM1259 276h1v6h-1zM1279 281h1v2h-1zM1299 283h1v36h-1zM1303 274h1v6h-1zM1315 271h1v14h-1zM1323 290h1v46h-1zM1331 313h1v24h-1zM1359 351h1v8h-1zM1363 345h1v7h-1zM1371 334h1v13h-1zM1375 330h1v6h-1zM1379 327h1v1h-1zM1383 322h1v8h-1zM1387 313h1v11h-1z" fill="#2e8b57"/>
<path d="M19 333h1v4h-1zM39 303h1v9h-1zM43 310h1v5h-1zM67 275h1v8h-1zM75 289h1v23h-1zM83 289h1v31h-1zM87 316h1v3h-1zM103 255h1v15h-1zM107 274h1v1h-1zM115 276h1v4h-1zM119 283h1v1h-1zM127 276h1v6h-1zM135 275h1v16h-1zM139 288h1v6h-1zM155 224h1v8h-1zM163 215h1v49h-1zM171 209h1v17h-1zM175 225h1v10h-1zM183 221h1v58h-1zM187 280h1v33h-1zM203 313h1v19h-1zM223 297h1v12h-1zM231 306h1v35h-1zM235 339h1v6h-1zM243 344h1v4h-1zM247 349h1v4h-1zM263 293h1v23h-1zM267 315h1v10h-1zM271 322h1v49h-1zM279 349h1v14h-1zM291 327h1v39h-1zM299 362h1v4h-1zM311 360h1v8h-1zM319 362h1v6h-1zM331 358h1v32h-1zM339 369h1v3h-1zM347 312h1v13h-1zM359 299h1v16h-1zM363 319h1v19h-1zM367 339h1v117h-1zM375 418h1v2h-1zM387 425h1v13h-1zM399 439h1v23h-1zM411 445h1v10h-1zM427 379h1v14h-1zM447 287h1v11h-1zM451 297h1v10h-1zM463 254h1v9h-1zM479 247h1v1h-1zM487 254h1v7h-1zM491 260h1v11h-1zM495 274h1v1h-1zM503 264h1v4h-1zM511 255h1v11h-1zM515 264h1v4h-1zM519 269h1v3h-1zM531 245h1v3h-1zM547 186h1v5h-1zM567 87h1v12h-1zM571 101h1v6h-1zM575 107h1v14h-1zM591 114h1v5h-1zM615 95h1v6h-1zM619 100h1v53h-1zM631 136h1v4h-1zM639 119h1v23h-1zM643 142h1v20h-1zM647 160h1v4h-1zM663 130h1v9h-1zM679 121h1v2h-1zM683 121h1v20h-1zM691 143h1v27h-1zM707 150h1v8h-1zM711 157h1v21h-1zM719 146h1v8h-1zM731 118h1v1h-1zM735 119h1v44h-1zM751 150h1v8h-1zM755 162h1v2h-1zM775 149h1v3h-1zM787 137h1v5h-1zM795 140h1v5h-1zM811 114h1v16h-1zM815 125h1v34h-1zM827 118h1v2h-1zM831 123h1v10h-1zM839 112h1v5h-1zM847 108h1v5h-1zM851 114h1v3h-1zM863 106h1v6h-1zM895 77h1v5h-1zM899 80h1v1h-1zM907 87h1v7h-1zM911 91h1v2h-1zM919 86h1v1h-1zM923 85h1v6h-1zM927 90h1v16h-1zM939 88h1v2h-1zM943 88h1v9h-1zM951 90h1v1h-1zM963 84h1v8h-1zM975 59h1v5h-1zM979 65h1v70h-1zM991 114h1v2h-1zM999 110h1v3h-1zM1003 113h1v10h-1zM1007 124h1v2h-1zM1011 128h1v8h-1zM1023 95h1v42h-1zM1031 137h1v11h-1zM1043 124h1v7h-1zM1047 132h1v13h-1zM1063 86h1v33h-1zM1067 124h1v9h-1zM1071 137h1v53h-1zM1087 170h1v5h-1zM1091 176h1v5h-1zM1103 182h1v6h-1zM1115 185h1v9h-1zM1119 197h1v22h-1zM1123 219h1v24h-1zM1127 244h1v4h-1zM1135 244h1v26h-1zM1143 224h1v5h-1zM1147 228h1v58h-1zM1151 286h1v17h-1zM1155 302h1v23h-1zM1167 275h1v11h-1zM1179 263h1v19h-1zM1191 265h1v3h-1zM1195 267h1v9h-1zM1211 245h1v10h-1zM1215 252h1v15h-1zM1219 267h1v13h-1zM1223 277h1v41h-1zM1227 320h1v18h-1zM1239 211h1v77h-1zM1243 292h1v4h-1zM1247 297h1v76h-1zM1271 279h1v3h-1zM1283 283h1v5h-1zM1287 288h1v12h-1zM1291 300h1v6h-1zM1295 306h1v12h-1zM1307 274h1v9h-1zM1319 270h1v62h-1zM1327 290h1v49h-1zM1335 313h1v7h-1zM1339 321h1v16h-1zM1343 334h1v43h-1zM1347 375h1v2h-1zM1355 355h1v4h-1z" fill="#ff4500"/>
</g>
<clipPath id="cs"><rect x="3" y="503" width="1393" height="108"/></clipPath><g clip-path="url(#cs)" shape-rendering="geometricPrecision"><path d="M3.5 524.6 L7.5 524.1 L11.5 523.0 L15.5 528.8 L19.5 542.0 L23.5 543.9 L27.5 536.6 L31.5 517.4 L35.5 519.4 L39.5 528.8 L43.5 546.7 L47.5 564.6 L51.5 563.0 L55.5 550.6 L59.5 535.0 L63.5 519.9 L67.5 519.9 L71.5 524.1 L75.5 552.9 L79.5 557.2 L83.5 577.3 L87.5 577.3 L91.5 573.1 L95.5 544.3 L99.5 512.1 L103.5 515.6 L107.5 535.8 L111.5 555.2 L115.5 574.7 L119.5 595.2 L123.5 584.8 L127.5 562.2 L131.5 539.7 L135.5 558.3 L139.5 576.5 L143.5 558.3 L147.5 530.3 L151.5 510.1 L155.5 515.6 L159.5 513.7 L163.5 544.3 L167.5 544.8 L171.5 560.7 L175.5 550.1 L179.5 555.2 L183.5 572.3 L187.5 576.2 L191.5 580.9 L195.5 575.0 L199.5 574.7 L203.5 573.9 L207.5 572.3 L211.5 562.2 L215.5 542.0 L219.5 529.9 L223.5 541.2 L227.5 553.7 L231.5 579.3 L235.5 591.0 L239.5 594.1 L243.5 592.6 L247.5 588.7 L251.5 573.1 L255.5 539.7 L259.5 523.3 L263.5 533.4 L267.5 552.9 L271.5 571.6 L275.5 577.0 L279.5 582.1 L283.5 576.2 L287.5 567.2 L291.5 566.1 L295.5 566.6 L299.5 589.5 L303.5 597.2 L307.5 594.6 L311.5 590.2 L315.5 569.2 L319.5 568.5 L323.5 557.6 L327.5 564.6 L331.5 577.0 L335.5 581.7 L339.5 581.7 L343.5 546.7 L347.5 535.5 L351.5 535.5 L355.5 544.3 L359.5 552.1 L363.5 561.4 L367.5 588.7 L371.5 590.2 L375.5 587.1 L379.5 576.2 L383.5 573.9 L387.5 568.5 L391.5 564.6 L395.5 565.3 L399.5 594.6 L403.5 587.9 L407.5 579.3 L411.5 570.0 L415.5 551.3 L419.5 531.1 L423.5 515.9 L427.5 515.6 L431.5 514.0 L435.5 518.4 L439.5 520.7 L443.5 520.7 L447.5 519.9 L451.5 519.9 L455.5 521.8 L459.5 519.4 L463.5 519.4 L467.5 524.9 L471.5 529.9 L475.5 528.0 L479.5 527.2 L483.5 538.1 L487.5 560.7 L491.5 584.8 L495.5 607.7 L499.5 595.7 L503.5 583.2 L507.5 562.2 L511.5 568.5 L515.5 576.2 L519.5 594.1 L523.5 587.9 L527.5 570.0 L531.5 552.9 L535.5 536.6 L539.5 525.7 L543.5 515.9 L547.5 517.1 L551.5 513.7 L555.5 512.1 L559.5 515.6 L563.5 518.7 L567.5 522.1 L571.5 525.7 L575.5 542.0 L579.5 563.8 L583.5 585.6 L587.5 585.6 L591.5 581.7 L595.5 580.9 L599.5 580.1 L603.5 565.3 L607.5 545.1 L611.5 531.1 L615.5 531.1 L619.5 571.6 L623.5 585.6 L627.5 583.2 L631.5 574.7 L635.5 565.0 L639.5 564.6 L643.5 558.8 L647.5 563.5 L651.5 563.0 L655.5 556.0 L659.5 539.7 L663.5 534.2 L667.5 529.9 L671.5 537.3 L675.5 531.9 L679.5 531.9 L683.5 548.2 L687.5 570.0 L691.5 596.5 L695.5 598.8 L699.5 601.1 L703.5 584.8 L707.5 577.8 L711.5 578.6 L715.5 563.0 L719.5 552.9 L723.5 529.6 L727.5 524.1 L731.5 519.0 L735.5 542.8 L739.5 565.3 L743.5 600.3 L747.5 594.9 L751.5 593.3 L755.5 590.2 L759.5 589.5 L763.5 572.3 L767.5 557.6 L771.5 540.4 L775.5 540.1 L779.5 526.8 L783.5 528.3 L787.5 528.0 L791.5 526.8 L795.5 537.0 L799.5 536.1 L803.5 543.2 L807.5 538.1 L811.5 545.1 L815.5 565.3 L819.5 580.1 L823.5 570.0 L827.5 549.8 L831.5 542.8 L835.5 538.9 L839.5 541.7 L843.5 535.0 L847.5 545.1 L851.5 553.7 L855.5 567.7 L859.5 559.9 L863.5 549.5 L867.5 549.5 L871.5 564.6 L875.5 537.3 L879.5 525.7 L883.5 521.8 L887.5 524.6 L891.5 524.9 L895.5 533.4 L899.5 549.8 L903.5 580.9 L907.5 587.9 L911.5 593.0 L915.5 584.0 L919.5 566.9 L923.5 552.1 L927.5 579.7 L931.5 579.7 L935.5 566.9 L939.5 542.0 L943.5 546.7 L947.5 559.9 L951.5 573.9 L955.5 572.3 L959.5 571.9 L963.5 573.4 L967.5 550.6 L971.5 541.2 L975.5 537.3 L979.5 564.6 L983.5 587.1 L987.5 591.8 L991.5 584.8 L995.5 576.2 L999.5 571.9 L1003.5 574.7 L1007.5 584.8 L1011.5 607.7 L1015.5 584.8 L1019.5 549.5 L1023.5 554.4 L1027.5 568.5 L1031.5 593.0 L1035.5 587.9 L1039.5 576.2 L1043.5 559.1 L1047.5 555.2 L1051.5 548.2 L1055.5 539.7 L1059.5 520.5 L1063.5 528.8 L1067.5 550.6 L1071.5 574.7 L1075.5 582.8 L1079.5 582.8 L1083.5 573.1 L1087.5 564.6 L1091.5 559.9 L1095.5 563.8 L1099.5 572.3 L1103.5 586.8 L1107.5 586.8 L1111.5 586.8 L1115.5 589.5 L1119.5 597.2 L1123.5 605.0 L1127.5 599.6 L1131.5 593.3 L1135.5 593.0 L1139.5 577.8 L1143.5 562.2 L1147.5 558.3 L1151.5 577.8 L1155.5 597.2 L1159.5 590.2 L1163.5 574.7 L1167.5 554.4 L1171.5 543.6 L1175.5 531.1 L1179.5 530.8 L1183.5 528.8 L1187.5 531.9 L1191.5 523.3 L1195.5 537.0 L1199.5 537.0 L1203.5 537.6 L1207.5 524.9 L1211.5 535.0 L1215.5 549.8 L1219.5 570.8 L1223.5 596.5 L1227.5 596.5 L1231.5 570.0 L1235.5 541.2 L1239.5 536.6 L1243.5 552.9 L1247.5 571.9 L1251.5 571.6 L1255.5 560.7 L1259.5 545.1 L1263.5 530.3 L1267.5 528.0 L1271.5 533.9 L1275.5 542.8 L1279.5 556.8 L1283.5 586.3 L1287.5 593.3 L1291.5 604.5 L1295.5 603.9 L1299.5 583.2 L1303.5 546.7 L1307.5 519.9 L1311.5 524.6 L1315.5 524.9 L1319.5 558.8 L1323.5 558.3 L1327.5 573.4 L1331.5 559.9 L1335.5 563.8 L1339.5 561.4 L1343.5 571.6 L1347.5 584.0 L1351.5 591.8 L1355.5 580.9 L1359.5 562.2 L1363.5 544.3 L1367.5 532.7 L1371.5 530.3 L1375.5 529.6 L1379.5 529.6 L1383.5 523.3 L1387.5 520.5" stroke="#20b2aa" stroke-width="2" fill="none" stroke-linejoin="round" shape-rendering="crispEdges"/><path d="M159 513h1v1h-1zM558 513h2v1h-2zM158 514h2v1h-2zM553 514h2v1h-2zM560 514h1v1h-1zM431 515h2v1h-2zM552 515h1v1h-1zM430 516h1v1h-1zM436 516h2v1h-2zM564 516h1v1h-1zM438 517h1v1h-1zM565 517h2v1h-2zM155 518h1v1h-1zM161 518h1v1h-1zM548 518h1v1h-1zM155 519h1v1h-1zM161 519h1v1h-1zM428 519h1v1h-1zM442 519h2v1h-2zM547 519h1v1h-1zM154 520h1v1h-1zM162 520h1v1h-1zM427 520h1v1h-1zM444 520h1v1h-1zM448 520h3v1h-3zM454 520h3v1h-3zM460 520h3v1h-3zM546 520h1v1h-1zM39 521h1v1h-1zM71 521h1v1h-1zM106 521h2v1h-2zM427 521h1v1h-1zM466 521h2v1h-2zM570 521h1v1h-1zM38 522h2v1h-2zM70 522h2v1h-2zM105 522h1v1h-1zM468 522h1v1h-1zM571 522h1v1h-1zM11 523h1v1h-1zM572 523h1v1h-1zM888 523h1v1h-1zM1315 523h1v1h-1zM3 524h3v1h-3zM9 524h2v1h-2zM153 524h1v1h-1zM163 524h1v1h-1zM544 524h1v1h-1zM887 524h1v1h-1zM892 524h1v1h-1zM1314 524h2v1h-2zM15 525h1v1h-1zM35 525h1v1h-1zM67 525h1v1h-1zM108 525h1v1h-1zM153 525h1v1h-1zM163 525h1v1h-1zM425 525h1v1h-1zM472 525h1v1h-1zM731 525h1v1h-1zM886 525h1v1h-1zM893 525h1v1h-1zM1386 525h1v1h-1zM16 526h1v1h-1zM34 526h1v1h-1zM41 526h1v1h-1zM66 526h1v1h-1zM73 526h1v1h-1zM103 526h1v1h-1zM108 526h1v1h-1zM153 526h1v1h-1zM164 526h1v1h-1zM425 526h1v1h-1zM473 526h2v1h-2zM543 526h1v1h-1zM730 526h1v1h-1zM894 526h1v1h-1zM16 527h1v1h-1zM34 527h1v1h-1zM41 527h1v1h-1zM73 527h1v1h-1zM102 527h1v1h-1zM109 527h1v1h-1zM425 527h1v1h-1zM543 527h1v1h-1zM574 527h1v1h-1zM730 527h1v1h-1zM734 527h1v1h-1zM787 527h3v1h-3zM42 528h1v1h-1zM66 528h1v1h-1zM74 528h1v1h-1zM102 528h1v1h-1zM478 528h2v1h-2zM575 528h1v1h-1zM735 528h1v1h-1zM1190 528h2v1h-2zM1312 528h1v1h-1zM1317 528h1v1h-1zM1381 528h2v1h-2zM480 529h1v1h-1zM575 529h1v1h-1zM735 529h1v1h-1zM793 529h2v1h-2zM883 529h1v1h-1zM1189 529h1v1h-1zM1312 529h1v1h-1zM1317 529h1v1h-1zM1380 529h1v1h-1zM152 530h1v1h-1zM165 530h1v1h-1zM795 530h1v1h-1zM882 530h1v1h-1zM897 530h1v1h-1zM1064 530h1v1h-1zM1183 530h3v1h-3zM1195 530h1v1h-1zM1311 530h1v1h-1zM1317 530h1v1h-1zM1375 530h2v1h-2zM19 531h1v1h-1zM32 531h1v1h-1zM110 531h1v1h-1zM151 531h1v1h-1zM166 531h1v1h-1zM423 531h1v1h-1zM541 531h1v1h-1zM728 531h1v1h-1zM783 531h1v1h-1zM882 531h1v1h-1zM897 531h1v1h-1zM1065 531h1v1h-1zM1196 531h2v1h-2zM1270 531h1v1h-1zM1374 531h1v1h-1zM20 532h1v1h-1zM31 532h1v1h-1zM43 532h1v1h-1zM64 532h1v1h-1zM75 532h1v1h-1zM101 532h1v1h-1zM110 532h1v1h-1zM151 532h1v1h-1zM166 532h1v1h-1zM263 532h1v1h-1zM423 532h1v1h-1zM483 532h1v1h-1zM541 532h1v1h-1zM728 532h1v1h-1zM782 532h1v1h-1zM898 532h1v1h-1zM1061 532h1v1h-1zM1066 532h1v1h-1zM1269 532h1v1h-1zM20 533h1v1h-1zM31 533h1v1h-1zM44 533h1v1h-1zM64 533h1v1h-1zM75 533h1v1h-1zM101 533h1v1h-1zM110 533h1v1h-1zM263 533h2v1h-2zM423 533h1v1h-1zM484 533h1v1h-1zM541 533h1v1h-1zM576 533h1v1h-1zM671 533h2v1h-2zM676 533h3v1h-3zM728 533h1v1h-1zM736 533h1v1h-1zM781 533h1v1h-1zM799 533h1v1h-1zM1060 533h1v1h-1zM1207 533h2v1h-2zM1212 533h1v1h-1zM1268 533h1v1h-1zM1274 533h1v1h-1zM44 534h1v1h-1zM63 534h1v1h-1zM76 534h1v1h-1zM101 534h1v1h-1zM484 534h1v1h-1zM576 534h1v1h-1zM670 534h1v1h-1zM737 534h1v1h-1zM800 534h1v1h-1zM1180 534h1v1h-1zM1201 534h1v1h-1zM1206 534h1v1h-1zM1213 534h1v1h-1zM1275 534h1v1h-1zM1310 534h1v1h-1zM1318 534h1v1h-1zM577 535h1v1h-1zM615 535h1v1h-1zM667 535h1v1h-1zM737 535h1v1h-1zM801 535h1v1h-1zM881 535h1v1h-1zM1060 535h1v1h-1zM1179 535h1v1h-1zM1201 535h1v1h-1zM1214 535h1v1h-1zM1275 535h1v1h-1zM1310 535h1v1h-1zM1319 535h1v1h-1zM1371 535h1v1h-1zM150 536h1v1h-1zM168 536h1v1h-1zM615 536h1v1h-1zM666 536h1v1h-1zM682 536h1v1h-1zM881 536h1v1h-1zM1068 536h1v1h-1zM1179 536h1v1h-1zM1202 536h1v1h-1zM1310 536h1v1h-1zM1319 536h1v1h-1zM1371 536h1v1h-1zM22 537h1v1h-1zM29 537h1v1h-1zM111 537h1v1h-1zM150 537h1v1h-1zM168 537h1v1h-1zM261 537h1v1h-1zM267 537h1v1h-1zM422 537h1v1h-1zM539 537h1v1h-1zM666 537h1v1h-1zM683 537h1v1h-1zM726 537h1v1h-1zM778 537h1v1h-1zM880 537h1v1h-1zM899 537h1v1h-1zM1068 537h1v1h-1zM1266 537h1v1h-1zM1370 537h1v1h-1zM23 538h2v1h-2zM28 538h1v1h-1zM45 538h1v1h-1zM62 538h1v1h-1zM77 538h1v1h-1zM100 538h1v1h-1zM112 538h1v1h-1zM150 538h1v1h-1zM168 538h1v1h-1zM224 538h1v1h-1zM261 538h1v1h-1zM268 538h1v1h-1zM354 538h2v1h-2zM422 538h1v1h-1zM486 538h1v1h-1zM539 538h1v1h-1zM683 538h1v1h-1zM726 538h1v1h-1zM778 538h1v1h-1zM804 538h2v1h-2zM899 538h2v1h-2zM1068 538h1v1h-1zM1266 538h1v1h-1zM28 539h1v1h-1zM45 539h1v1h-1zM62 539h1v1h-1zM77 539h1v1h-1zM100 539h1v1h-1zM112 539h1v1h-1zM225 539h1v1h-1zM261 539h1v1h-1zM268 539h1v1h-1zM356 539h1v1h-1zM421 539h1v1h-1zM486 539h1v1h-1zM539 539h1v1h-1zM578 539h1v1h-1zM726 539h1v1h-1zM738 539h1v1h-1zM777 539h1v1h-1zM806 539h1v1h-1zM844 539h2v1h-2zM1058 539h1v1h-1zM1216 539h1v1h-1zM1265 539h1v1h-1zM1277 539h1v1h-1zM45 540h1v1h-1zM62 540h1v1h-1zM78 540h1v1h-1zM100 540h1v1h-1zM221 540h1v1h-1zM226 540h1v1h-1zM351 540h1v1h-1zM486 540h1v1h-1zM578 540h1v1h-1zM613 540h1v1h-1zM617 540h1v1h-1zM738 540h1v1h-1zM840 540h1v1h-1zM846 540h1v1h-1zM1057 540h1v1h-1zM1177 540h1v1h-1zM1216 540h1v1h-1zM1277 540h1v1h-1zM1309 540h1v1h-1zM1320 540h1v1h-1zM221 541h1v1h-1zM350 541h1v1h-1zM578 541h1v1h-1zM618 541h1v1h-1zM664 541h1v1h-1zM739 541h1v1h-1zM810 541h1v1h-1zM838 541h2v1h-2zM879 541h1v1h-1zM1057 541h1v1h-1zM1176 541h1v1h-1zM1216 541h1v1h-1zM1278 541h1v1h-1zM1309 541h1v1h-1zM1321 541h1v1h-1zM1369 541h1v1h-1zM149 542h1v1h-1zM169 542h1v1h-1zM220 542h1v1h-1zM350 542h1v1h-1zM613 542h1v1h-1zM618 542h1v1h-1zM663 542h1v1h-1zM685 542h1v1h-1zM811 542h1v1h-1zM879 542h1v1h-1zM900 542h1v1h-1zM1069 542h1v1h-1zM1176 542h1v1h-1zM1309 542h1v1h-1zM1321 542h1v1h-1zM1368 542h1v1h-1zM113 543h1v1h-1zM169 543h1v1h-1zM260 543h1v1h-1zM269 543h1v1h-1zM358 543h2v1h-2zM421 543h1v1h-1zM538 543h1v1h-1zM612 543h1v1h-1zM663 543h1v1h-1zM685 543h1v1h-1zM725 543h1v1h-1zM776 543h1v1h-1zM812 543h1v1h-1zM850 543h1v1h-1zM879 543h1v1h-1zM901 543h1v1h-1zM976 543h1v1h-1zM1069 543h1v1h-1zM1264 543h1v1h-1zM1368 543h1v1h-1zM46 544h1v1h-1zM60 544h1v1h-1zM79 544h1v1h-1zM99 544h1v1h-1zM113 544h1v1h-1zM149 544h1v1h-1zM170 544h1v1h-1zM228 544h1v1h-1zM259 544h1v1h-1zM269 544h1v1h-1zM359 544h1v1h-1zM420 544h1v1h-1zM487 544h1v1h-1zM537 544h1v1h-1zM685 544h1v1h-1zM724 544h1v1h-1zM835 544h1v1h-1zM851 544h1v1h-1zM901 544h1v1h-1zM977 544h1v1h-1zM1069 544h1v1h-1zM1243 544h1v1h-1zM1263 544h1v1h-1zM47 545h1v1h-1zM60 545h1v1h-1zM79 545h1v1h-1zM99 545h1v1h-1zM113 545h1v1h-1zM149 545h1v1h-1zM228 545h1v1h-1zM259 545h1v1h-1zM269 545h1v1h-1zM420 545h1v1h-1zM488 545h1v1h-1zM537 545h1v1h-1zM579 545h1v1h-1zM724 545h1v1h-1zM739 545h1v1h-1zM775 545h1v1h-1zM834 545h1v1h-1zM851 545h1v1h-1zM977 545h1v1h-1zM1056 545h1v1h-1zM1174 545h1v1h-1zM1217 545h1v1h-1zM1244 545h1v1h-1zM1263 545h1v1h-1zM1279 545h1v1h-1zM47 546h1v1h-1zM60 546h1v1h-1zM79 546h1v1h-1zM98 546h1v1h-1zM218 546h1v1h-1zM228 546h1v1h-1zM349 546h1v1h-1zM488 546h1v1h-1zM580 546h1v1h-1zM619 546h1v1h-1zM740 546h1v1h-1zM775 546h1v1h-1zM834 546h1v1h-1zM974 546h1v1h-1zM1055 546h1v1h-1zM1174 546h1v1h-1zM1218 546h1v1h-1zM1241 546h1v1h-1zM1244 546h1v1h-1zM1279 546h1v1h-1zM1308 546h1v1h-1zM1323 546h1v1h-1zM171 547h1v1h-1zM218 547h1v1h-1zM349 547h1v1h-1zM580 547h1v1h-1zM611 547h1v1h-1zM620 547h1v1h-1zM661 547h1v1h-1zM740 547h1v1h-1zM814 547h1v1h-1zM877 547h1v1h-1zM974 547h1v1h-1zM1055 547h1v1h-1zM1174 547h1v1h-1zM1218 547h1v1h-1zM1240 547h1v1h-1zM1280 547h1v1h-1zM1307 547h2v1h-2zM1323 547h1v1h-1zM1367 547h1v1h-1zM171 548h1v1h-1zM218 548h1v1h-1zM349 548h1v1h-1zM361 548h1v1h-1zM611 548h1v1h-1zM620 548h1v1h-1zM661 548h1v1h-1zM686 548h1v1h-1zM814 548h1v1h-1zM876 548h1v1h-1zM902 548h1v1h-1zM973 548h1v1h-1zM1070 548h1v1h-1zM1240 548h1v1h-1zM1323 548h1v1h-1zM1367 548h1v1h-1zM114 549h1v1h-1zM148 549h1v1h-1zM171 549h1v1h-1zM258 549h1v1h-1zM270 549h1v1h-1zM362 549h1v1h-1zM419 549h1v1h-1zM536 549h1v1h-1zM611 549h1v1h-1zM661 549h1v1h-1zM687 549h1v1h-1zM723 549h1v1h-1zM815 549h1v1h-1zM853 549h1v1h-1zM876 549h1v1h-1zM902 549h1v1h-1zM947 549h1v1h-1zM980 549h1v1h-1zM1071 549h1v1h-1zM1262 549h1v1h-1zM1366 549h1v1h-1zM48 550h1v1h-1zM59 550h1v1h-1zM80 550h1v1h-1zM98 550h1v1h-1zM114 550h1v1h-1zM148 550h1v1h-1zM229 550h1v1h-1zM258 550h1v1h-1zM271 550h1v1h-1zM362 550h1v1h-1zM419 550h1v1h-1zM489 550h1v1h-1zM536 550h1v1h-1zM687 550h1v1h-1zM723 550h1v1h-1zM773 550h1v1h-1zM853 550h1v1h-1zM902 550h1v1h-1zM945 550h2v1h-2zM980 550h1v1h-1zM1071 550h1v1h-1zM1246 550h1v1h-1zM1262 550h1v1h-1zM49 551h1v1h-1zM58 551h1v1h-1zM81 551h1v1h-1zM98 551h1v1h-1zM114 551h1v1h-1zM148 551h1v1h-1zM175 551h1v1h-1zM230 551h1v1h-1zM258 551h1v1h-1zM271 551h1v1h-1zM419 551h1v1h-1zM489 551h1v1h-1zM536 551h1v1h-1zM581 551h1v1h-1zM722 551h1v1h-1zM740 551h1v1h-1zM773 551h1v1h-1zM832 551h1v1h-1zM854 551h1v1h-1zM980 551h1v1h-1zM1173 551h1v1h-1zM1219 551h1v1h-1zM1246 551h1v1h-1zM1261 551h1v1h-1zM1281 551h1v1h-1zM1307 551h1v1h-1zM49 552h1v1h-1zM58 552h1v1h-1zM81 552h1v1h-1zM97 552h1v1h-1zM176 552h1v1h-1zM217 552h1v1h-1zM230 552h1v1h-1zM348 552h1v1h-1zM489 552h1v1h-1zM581 552h1v1h-1zM621 552h1v1h-1zM740 552h1v1h-1zM772 552h1v1h-1zM832 552h1v1h-1zM972 552h1v1h-1zM1052 552h1v1h-1zM1172 552h1v1h-1zM1219 552h1v1h-1zM1238 552h1v1h-1zM1247 552h1v1h-1zM1281 552h1v1h-1zM1307 552h1v1h-1zM1324 552h1v1h-1zM135 553h1v1h-1zM177 553h1v1h-1zM216 553h1v1h-1zM347 553h1v1h-1zM581 553h1v1h-1zM610 553h1v1h-1zM621 553h1v1h-1zM659 553h1v1h-1zM741 553h1v1h-1zM816 553h1v1h-1zM831 553h1v1h-1zM866 553h1v1h-1zM872 553h1v1h-1zM942 553h1v1h-1zM948 553h1v1h-1zM972 553h1v1h-1zM1052 553h1v1h-1zM1172 553h1v1h-1zM1219 553h1v1h-1zM1238 553h1v1h-1zM1281 553h1v1h-1zM1306 553h1v1h-1zM1325 553h1v1h-1zM1365 553h1v1h-1zM136 554h1v1h-1zM216 554h1v1h-1zM347 554h1v1h-1zM364 554h1v1h-1zM609 554h1v1h-1zM621 554h1v1h-1zM658 554h1v1h-1zM688 554h1v1h-1zM816 554h1v1h-1zM866 554h1v1h-1zM870 554h2v1h-2zM903 554h1v1h-1zM942 554h1v1h-1zM949 554h1v1h-1zM971 554h1v1h-1zM1051 554h1v1h-1zM1072 554h1v1h-1zM1238 554h1v1h-1zM1325 554h1v1h-1zM1365 554h1v1h-1zM115 555h1v1h-1zM137 555h1v1h-1zM147 555h1v1h-1zM257 555h1v1h-1zM272 555h1v1h-1zM364 555h1v1h-1zM418 555h1v1h-1zM535 555h1v1h-1zM609 555h1v1h-1zM658 555h1v1h-1zM688 555h1v1h-1zM721 555h1v1h-1zM817 555h1v1h-1zM855 555h1v1h-1zM865 555h1v1h-1zM903 555h1v1h-1zM942 555h1v1h-1zM949 555h1v1h-1zM981 555h1v1h-1zM1072 555h1v1h-1zM1260 555h1v1h-1zM1365 555h1v1h-1zM56 556h1v1h-1zM82 556h1v1h-1zM97 556h1v1h-1zM115 556h1v1h-1zM147 556h1v1h-1zM257 556h1v1h-1zM272 556h1v1h-1zM364 556h1v1h-1zM418 556h1v1h-1zM490 556h1v1h-1zM534 556h1v1h-1zM688 556h1v1h-1zM721 556h1v1h-1zM771 556h1v1h-1zM856 556h1v1h-1zM903 556h1v1h-1zM981 556h1v1h-1zM1072 556h1v1h-1zM1248 556h1v1h-1zM1260 556h1v1h-1zM51 557h1v1h-1zM56 557h1v1h-1zM82 557h1v1h-1zM96 557h1v1h-1zM115 557h1v1h-1zM133 557h1v1h-1zM146 557h1v1h-1zM181 557h1v1h-1zM231 557h1v1h-1zM257 557h1v1h-1zM272 557h1v1h-1zM417 557h1v1h-1zM490 557h1v1h-1zM534 557h1v1h-1zM582 557h1v1h-1zM721 557h1v1h-1zM741 557h1v1h-1zM771 557h1v1h-1zM830 557h1v1h-1zM857 557h1v1h-1zM982 557h1v1h-1zM1027 557h1v1h-1zM1171 557h1v1h-1zM1248 557h1v1h-1zM1260 557h1v1h-1zM1282 557h1v1h-1zM1306 557h1v1h-1zM51 558h2v1h-2zM55 558h1v1h-1zM82 558h1v1h-1zM96 558h1v1h-1zM133 558h1v1h-1zM182 558h1v1h-1zM215 558h1v1h-1zM231 558h1v1h-1zM346 558h1v1h-1zM490 558h1v1h-1zM582 558h1v1h-1zM622 558h1v1h-1zM741 558h1v1h-1zM771 558h1v1h-1zM830 558h1v1h-1zM970 558h1v1h-1zM1027 558h1v1h-1zM1049 558h1v1h-1zM1171 558h1v1h-1zM1220 558h1v1h-1zM1237 558h1v1h-1zM1249 558h1v1h-1zM1282 558h1v1h-1zM1306 558h1v1h-1zM1326 558h1v1h-1zM132 559h1v1h-1zM140 559h1v1h-1zM183 559h1v1h-1zM215 559h1v1h-1zM231 559h1v1h-1zM346 559h1v1h-1zM582 559h1v1h-1zM608 559h1v1h-1zM622 559h1v1h-1zM656 559h1v1h-1zM742 559h1v1h-1zM818 559h1v1h-1zM829 559h1v1h-1zM861 559h2v1h-2zM940 559h1v1h-1zM951 559h1v1h-1zM969 559h1v1h-1zM1028 559h1v1h-1zM1049 559h1v1h-1zM1171 559h1v1h-1zM1220 559h1v1h-1zM1237 559h1v1h-1zM1283 559h1v1h-1zM1306 559h1v1h-1zM1326 559h1v1h-1zM1364 559h1v1h-1zM140 560h1v1h-1zM214 560h1v1h-1zM345 560h1v1h-1zM365 560h1v1h-1zM608 560h1v1h-1zM623 560h1v1h-1zM655 560h1v1h-1zM689 560h1v1h-1zM818 560h1v1h-1zM860 560h1v1h-1zM904 560h1v1h-1zM940 560h1v1h-1zM951 560h1v1h-1zM969 560h1v1h-1zM1048 560h1v1h-1zM1073 560h1v1h-1zM1221 560h1v1h-1zM1237 560h1v1h-1zM1326 560h1v1h-1zM1364 560h1v1h-1zM116 561h1v1h-1zM141 561h1v1h-1zM144 561h1v1h-1zM256 561h1v1h-1zM273 561h1v1h-1zM365 561h1v1h-1zM416 561h1v1h-1zM533 561h1v1h-1zM608 561h1v1h-1zM650 561h1v1h-1zM654 561h1v1h-1zM689 561h1v1h-1zM720 561h1v1h-1zM818 561h1v1h-1zM905 561h1v1h-1zM939 561h1v1h-1zM951 561h1v1h-1zM983 561h1v1h-1zM1024 561h1v1h-1zM1073 561h1v1h-1zM1258 561h1v1h-1zM1363 561h1v1h-1zM83 562h1v1h-1zM95 562h1v1h-1zM116 562h1v1h-1zM144 562h1v1h-1zM256 562h1v1h-1zM274 562h1v1h-1zM366 562h1v1h-1zM416 562h1v1h-1zM491 562h1v1h-1zM533 562h1v1h-1zM643 562h2v1h-2zM648 562h2v1h-2zM689 562h1v1h-1zM720 562h1v1h-1zM770 562h1v1h-1zM905 562h1v1h-1zM1023 562h1v1h-1zM1073 562h1v1h-1zM1095 562h1v1h-1zM1250 562h1v1h-1zM1258 562h1v1h-1zM1340 562h1v1h-1zM84 563h1v1h-1zM95 563h1v1h-1zM117 563h1v1h-1zM131 563h1v1h-1zM143 563h1v1h-1zM185 563h1v1h-1zM232 563h1v1h-1zM256 563h1v1h-1zM274 563h1v1h-1zM416 563h1v1h-1zM491 563h1v1h-1zM533 563h1v1h-1zM583 563h1v1h-1zM642 563h1v1h-1zM719 563h1v1h-1zM742 563h1v1h-1zM769 563h1v1h-1zM828 563h1v1h-1zM983 563h1v1h-1zM1023 563h1v1h-1zM1029 563h1v1h-1zM1096 563h1v1h-1zM1170 563h1v1h-1zM1250 563h1v1h-1zM1257 563h1v1h-1zM1283 563h1v1h-1zM1305 563h1v1h-1zM1328 563h3v1h-3zM1341 563h1v1h-1zM84 564h1v1h-1zM95 564h1v1h-1zM131 564h1v1h-1zM185 564h1v1h-1zM213 564h1v1h-1zM233 564h1v1h-1zM324 564h1v1h-1zM328 564h2v1h-2zM344 564h1v1h-1zM492 564h1v1h-1zM583 564h1v1h-1zM623 564h1v1h-1zM742 564h1v1h-1zM769 564h1v1h-1zM828 564h1v1h-1zM953 564h1v1h-1zM967 564h1v1h-1zM983 564h1v1h-1zM1029 564h1v1h-1zM1047 564h1v1h-1zM1097 564h1v1h-1zM1169 564h1v1h-1zM1221 564h1v1h-1zM1236 564h1v1h-1zM1251 564h1v1h-1zM1284 564h1v1h-1zM1305 564h1v1h-1zM1336 564h1v1h-1zM1342 564h1v1h-1zM130 565h1v1h-1zM186 565h1v1h-1zM212 565h1v1h-1zM233 565h1v1h-1zM323 565h1v1h-1zM330 565h1v1h-1zM344 565h1v1h-1zM584 565h1v1h-1zM606 565h1v1h-1zM624 565h1v1h-1zM742 565h1v1h-1zM820 565h1v1h-1zM827 565h1v1h-1zM938 565h1v1h-1zM954 565h1v1h-1zM967 565h1v1h-1zM1029 565h1v1h-1zM1046 565h1v1h-1zM1091 565h1v1h-1zM1169 565h1v1h-1zM1222 565h1v1h-1zM1236 565h1v1h-1zM1284 565h1v1h-1zM1305 565h1v1h-1zM1334 565h2v1h-2zM1362 565h1v1h-1zM212 566h1v1h-1zM323 566h1v1h-1zM344 566h1v1h-1zM367 566h1v1h-1zM394 566h1v1h-1zM606 566h1v1h-1zM624 566h1v1h-1zM690 566h1v1h-1zM821 566h1v1h-1zM906 566h1v1h-1zM926 566h2v1h-2zM938 566h1v1h-1zM954 566h1v1h-1zM966 566h1v1h-1zM1046 566h1v1h-1zM1074 566h1v1h-1zM1091 566h1v1h-1zM1147 566h2v1h-2zM1222 566h1v1h-1zM1236 566h1v1h-1zM1362 566h1v1h-1zM117 567h1v1h-1zM255 567h1v1h-1zM275 567h1v1h-1zM294 567h1v1h-1zM367 567h1v1h-1zM393 567h1v1h-1zM415 567h1v1h-1zM532 567h1v1h-1zM606 567h1v1h-1zM690 567h1v1h-1zM718 567h1v1h-1zM821 567h1v1h-1zM906 567h1v1h-1zM928 567h1v1h-1zM937 567h1v1h-1zM1022 567h1v1h-1zM1075 567h1v1h-1zM1090 567h1v1h-1zM1100 567h1v1h-1zM1147 567h1v1h-1zM1151 567h1v1h-1zM1254 567h2v1h-2zM1362 567h1v1h-1zM86 568h1v1h-1zM94 568h1v1h-1zM118 568h1v1h-1zM255 568h1v1h-1zM275 568h1v1h-1zM293 568h1v1h-1zM367 568h1v1h-1zM392 568h1v1h-1zM414 568h1v1h-1zM492 568h1v1h-1zM515 568h1v1h-1zM531 568h1v1h-1zM639 568h1v1h-1zM690 568h1v1h-1zM717 568h1v1h-1zM906 568h1v1h-1zM923 568h1v1h-1zM984 568h1v1h-1zM1022 568h1v1h-1zM1075 568h1v1h-1zM1100 568h1v1h-1zM1152 568h1v1h-1zM1255 568h1v1h-1zM1345 568h1v1h-1zM87 569h1v1h-1zM93 569h1v1h-1zM118 569h1v1h-1zM130 569h1v1h-1zM188 569h1v1h-1zM234 569h1v1h-1zM255 569h1v1h-1zM276 569h1v1h-1zM292 569h1v1h-1zM297 569h1v1h-1zM333 569h1v1h-1zM396 569h2v1h-2zM414 569h1v1h-1zM492 569h1v1h-1zM515 569h1v1h-1zM531 569h1v1h-1zM585 569h1v1h-1zM638 569h1v1h-1zM743 569h1v1h-1zM768 569h1v1h-1zM825 569h1v1h-1zM922 569h1v1h-1zM984 569h1v1h-1zM1021 569h1v1h-1zM1030 569h1v1h-1zM1101 569h1v1h-1zM1152 569h1v1h-1zM1168 569h1v1h-1zM1285 569h1v1h-1zM1304 569h1v1h-1zM1345 569h1v1h-1zM87 570h1v1h-1zM93 570h1v1h-1zM129 570h1v1h-1zM188 570h1v1h-1zM210 570h1v1h-1zM234 570h1v1h-1zM297 570h1v1h-1zM321 570h1v1h-1zM333 570h1v1h-1zM397 570h1v1h-1zM493 570h1v1h-1zM516 570h1v1h-1zM585 570h1v1h-1zM625 570h1v1h-1zM638 570h1v1h-1zM717 570h1v1h-1zM743 570h1v1h-1zM768 570h1v1h-1zM824 570h1v1h-1zM922 570h1v1h-1zM957 570h1v1h-1zM964 570h1v1h-1zM985 570h1v1h-1zM1030 570h1v1h-1zM1044 570h1v1h-1zM1168 570h1v1h-1zM1223 570h1v1h-1zM1235 570h1v1h-1zM1285 570h1v1h-1zM1304 570h1v1h-1zM1346 570h1v1h-1zM129 571h1v1h-1zM189 571h1v1h-1zM209 571h1v1h-1zM234 571h1v1h-1zM298 571h1v1h-1zM321 571h1v1h-1zM334 571h1v1h-1zM343 571h1v1h-1zM388 571h1v1h-1zM511 571h1v1h-1zM585 571h1v1h-1zM604 571h1v1h-1zM625 571h1v1h-1zM743 571h1v1h-1zM768 571h1v1h-1zM823 571h1v1h-1zM932 571h1v1h-1zM936 571h1v1h-1zM958 571h1v1h-1zM964 571h1v1h-1zM1031 571h1v1h-1zM1044 571h1v1h-1zM1088 571h1v1h-1zM1145 571h1v1h-1zM1168 571h1v1h-1zM1223 571h1v1h-1zM1235 571h1v1h-1zM1285 571h1v1h-1zM1304 571h1v1h-1zM1361 571h1v1h-1zM208 572h1v1h-1zM320 572h1v1h-1zM342 572h1v1h-1zM369 572h1v1h-1zM387 572h1v1h-1zM511 572h1v1h-1zM604 572h1v1h-1zM625 572h1v1h-1zM691 572h1v1h-1zM907 572h1v1h-1zM933 572h1v1h-1zM936 572h1v1h-1zM959 572h1v1h-1zM963 572h1v1h-1zM1044 572h1v1h-1zM1076 572h1v1h-1zM1088 572h1v1h-1zM1145 572h1v1h-1zM1153 572h1v1h-1zM1223 572h1v1h-1zM1234 572h1v1h-1zM1361 572h1v1h-1zM119 573h1v1h-1zM254 573h1v1h-1zM277 573h2v1h-2zM289 573h1v1h-1zM342 573h1v1h-1zM369 573h1v1h-1zM386 573h1v1h-1zM510 573h1v1h-1zM530 573h1v1h-1zM604 573h1v1h-1zM691 573h1v1h-1zM907 573h1v1h-1zM933 573h1v1h-1zM936 573h1v1h-1zM1021 573h1v1h-1zM1076 573h1v1h-1zM1087 573h1v1h-1zM1103 573h1v1h-1zM1144 573h1v1h-1zM1154 573h1v1h-1zM1360 573h1v1h-1zM90 574h2v1h-2zM119 574h1v1h-1zM203 574h2v1h-2zM253 574h1v1h-1zM278 574h1v1h-1zM288 574h1v1h-1zM369 574h1v1h-1zM399 574h1v1h-1zM413 574h1v1h-1zM493 574h1v1h-1zM517 574h1v1h-1zM530 574h1v1h-1zM635 574h1v1h-1zM692 574h1v1h-1zM714 574h1v1h-1zM908 574h1v1h-1zM921 574h1v1h-1zM985 574h1v1h-1zM1004 574h1v1h-1zM1020 574h1v1h-1zM1077 574h1v1h-1zM1103 574h1v1h-1zM1154 574h1v1h-1zM1348 574h1v1h-1zM91 575h1v1h-1zM119 575h1v1h-1zM128 575h1v1h-1zM191 575h1v1h-1zM202 575h1v1h-1zM235 575h1v1h-1zM253 575h1v1h-1zM287 575h1v1h-1zM336 575h1v1h-1zM400 575h1v1h-1zM412 575h1v1h-1zM493 575h1v1h-1zM518 575h1v1h-1zM530 575h1v1h-1zM586 575h1v1h-1zM634 575h1v1h-1zM714 575h1v1h-1zM744 575h1v1h-1zM766 575h1v1h-1zM921 575h1v1h-1zM986 575h1v1h-1zM1005 575h1v1h-1zM1020 575h1v1h-1zM1104 575h1v1h-1zM1166 575h1v1h-1zM1286 575h1v1h-1zM1303 575h1v1h-1zM1348 575h1v1h-1zM128 576h1v1h-1zM191 576h2v1h-2zM198 576h1v1h-1zM236 576h1v1h-1zM300 576h1v1h-1zM319 576h1v1h-1zM336 576h1v1h-1zM400 576h1v1h-1zM412 576h1v1h-1zM494 576h1v1h-1zM518 576h1v1h-1zM586 576h1v1h-1zM634 576h1v1h-1zM713 576h1v1h-1zM745 576h1v1h-1zM766 576h1v1h-1zM920 576h1v1h-1zM986 576h1v1h-1zM1000 576h1v1h-1zM1006 576h1v1h-1zM1032 576h1v1h-1zM1042 576h1v1h-1zM1166 576h1v1h-1zM1224 576h1v1h-1zM1233 576h1v1h-1zM1287 576h1v1h-1zM1303 576h1v1h-1zM1349 576h1v1h-1zM128 577h1v1h-1zM196 577h2v1h-2zM236 577h1v1h-1zM281 577h1v1h-1zM300 577h1v1h-1zM318 577h1v1h-1zM337 577h1v1h-1zM340 577h1v1h-1zM508 577h1v1h-1zM587 577h1v1h-1zM601 577h1v1h-1zM626 577h1v1h-1zM745 577h1v1h-1zM766 577h1v1h-1zM999 577h1v1h-1zM1033 577h1v1h-1zM1042 577h1v1h-1zM1084 577h1v1h-1zM1143 577h1v1h-1zM1166 577h1v1h-1zM1224 577h1v1h-1zM1233 577h1v1h-1zM1287 577h1v1h-1zM1303 577h1v1h-1zM1359 577h1v1h-1zM282 578h2v1h-2zM301 578h1v1h-1zM318 578h1v1h-1zM340 578h1v1h-1zM370 578h1v1h-1zM384 578h1v1h-1zM508 578h1v1h-1zM601 578h1v1h-1zM627 578h1v1h-1zM693 578h1v1h-1zM998 578h1v1h-1zM1033 578h1v1h-1zM1042 578h1v1h-1zM1078 578h1v1h-1zM1084 578h1v1h-1zM1143 578h1v1h-1zM1155 578h1v1h-1zM1225 578h1v1h-1zM1233 578h1v1h-1zM1359 578h1v1h-1zM121 579h1v1h-1zM252 579h1v1h-1zM339 579h1v1h-1zM371 579h1v1h-1zM383 579h1v1h-1zM507 579h1v1h-1zM528 579h1v1h-1zM600 579h1v1h-1zM627 579h1v1h-1zM693 579h1v1h-1zM909 579h1v1h-1zM1019 579h1v1h-1zM1079 579h1v1h-1zM1083 579h1v1h-1zM1106 579h1v1h-1zM1142 579h1v1h-1zM1156 579h1v1h-1zM1358 579h1v1h-1zM121 580h1v1h-1zM252 580h1v1h-1zM371 580h1v1h-1zM382 580h1v1h-1zM402 580h1v1h-1zM411 580h1v1h-1zM494 580h1v1h-1zM520 580h1v1h-1zM528 580h1v1h-1zM630 580h1v1h-1zM632 580h1v1h-1zM693 580h1v1h-1zM711 580h1v1h-1zM909 580h1v1h-1zM919 580h1v1h-1zM987 580h1v1h-1zM1008 580h1v1h-1zM1019 580h1v1h-1zM1079 580h1v1h-1zM1106 580h1v1h-1zM1156 580h1v1h-1zM1350 580h1v1h-1zM122 581h1v1h-1zM126 581h1v1h-1zM237 581h1v1h-1zM252 581h1v1h-1zM403 581h1v1h-1zM410 581h1v1h-1zM494 581h1v1h-1zM520 581h1v1h-1zM528 581h1v1h-1zM589 581h1v1h-1zM631 581h1v1h-1zM711 581h1v1h-1zM746 581h1v1h-1zM764 581h1v1h-1zM909 581h1v1h-1zM919 581h1v1h-1zM987 581h1v1h-1zM1008 581h1v1h-1zM1019 581h1v1h-1zM1107 581h1v1h-1zM1165 581h1v1h-1zM1288 581h1v1h-1zM1351 581h1v1h-1zM125 582h1v1h-1zM237 582h1v1h-1zM302 582h1v1h-1zM316 582h1v1h-1zM403 582h1v1h-1zM410 582h1v1h-1zM495 582h1v1h-1zM521 582h1v1h-1zM590 582h1v1h-1zM595 582h2v1h-2zM710 582h1v1h-1zM746 582h1v1h-1zM764 582h1v1h-1zM918 582h1v1h-1zM988 582h1v1h-1zM996 582h1v1h-1zM1009 582h1v1h-1zM1035 582h1v1h-1zM1040 582h1v1h-1zM1164 582h1v1h-1zM1226 582h1v1h-1zM1232 582h1v1h-1zM1288 582h1v1h-1zM1302 582h1v1h-1zM1351 582h1v1h-1zM124 583h1v1h-1zM303 583h1v1h-1zM315 583h1v1h-1zM506 583h1v1h-1zM590 583h1v1h-1zM594 583h1v1h-1zM746 583h1v1h-1zM763 583h1v1h-1zM996 583h1v1h-1zM1035 583h2v1h-2zM1040 583h1v1h-1zM1141 583h1v1h-1zM1164 583h1v1h-1zM1226 583h1v1h-1zM1232 583h1v1h-1zM1288 583h1v1h-1zM1302 583h1v1h-1zM1356 583h1v1h-1zM238 584h1v1h-1zM303 584h1v1h-1zM315 584h1v1h-1zM373 584h1v1h-1zM379 584h1v1h-1zM506 584h1v1h-1zM526 584h1v1h-1zM694 584h1v1h-1zM995 584h1v1h-1zM1039 584h1v1h-1zM1140 584h1v1h-1zM1158 584h1v1h-1zM1226 584h1v1h-1zM1232 584h1v1h-1zM1302 584h1v1h-1zM1356 584h1v1h-1zM250 585h1v1h-1zM374 585h1v1h-1zM378 585h1v1h-1zM506 585h1v1h-1zM524 585h2v1h-2zM694 585h1v1h-1zM910 585h1v1h-1zM990 585h1v1h-1zM1017 585h1v1h-1zM1110 585h1v1h-1zM1140 585h1v1h-1zM1158 585h1v1h-1zM1355 585h1v1h-1zM250 586h1v1h-1zM374 586h1v1h-1zM377 586h1v1h-1zM406 586h1v1h-1zM408 586h1v1h-1zM496 586h1v1h-1zM695 586h1v1h-1zM708 586h1v1h-1zM911 586h1v1h-1zM916 586h1v1h-1zM990 586h1v1h-1zM1010 586h1v1h-1zM1017 586h1v1h-1zM1111 586h1v1h-1zM1158 586h1v1h-1zM249 587h1v1h-1zM407 587h1v1h-1zM496 587h1v1h-1zM707 587h1v1h-1zM747 587h1v1h-1zM761 587h1v1h-1zM911 587h1v1h-1zM916 587h1v1h-1zM991 587h1v1h-1zM1010 587h1v1h-1zM1017 587h1v1h-1zM1112 587h1v1h-1zM1161 587h3v1h-3zM1228 587h3v1h-3zM1289 587h1v1h-1zM239 588h1v1h-1zM305 588h1v1h-1zM313 588h1v1h-1zM496 588h1v1h-1zM706 588h1v1h-1zM748 588h1v1h-1zM761 588h1v1h-1zM915 588h1v1h-1zM1011 588h1v1h-1zM1116 588h1v1h-1zM1290 588h1v1h-1zM1301 588h1v1h-1zM240 589h1v1h-1zM305 589h1v1h-1zM313 589h1v1h-1zM505 589h1v1h-1zM748 589h1v1h-1zM760 589h1v1h-1zM1117 589h1v1h-1zM1290 589h1v1h-1zM1301 589h1v1h-1zM241 590h1v1h-1zM306 590h1v1h-1zM312 590h1v1h-1zM504 590h1v1h-1zM696 590h1v1h-1zM1118 590h1v1h-1zM1138 590h1v1h-1zM1300 590h1v1h-1zM246 591h2v1h-2zM504 591h1v1h-1zM696 591h1v1h-1zM757 591h1v1h-1zM1014 591h2v1h-2zM1137 591h1v1h-1zM245 592h1v1h-1zM498 592h1v1h-1zM697 592h1v1h-1zM704 592h1v1h-1zM755 592h2v1h-2zM1015 592h1v1h-1zM1137 592h1v1h-1zM308 593h3v1h-3zM498 593h1v1h-1zM704 593h1v1h-1zM1291 593h1v1h-1zM498 594h1v1h-1zM703 594h1v1h-1zM750 594h1v1h-1zM1121 594h1v1h-1zM1291 594h1v1h-1zM1300 594h1v1h-1zM501 595h3v1h-3zM751 595h1v1h-1zM1122 595h1v1h-1zM1292 595h1v1h-1zM1299 595h1v1h-1zM698 596h1v1h-1zM751 596h1v1h-1zM1122 596h1v1h-1zM1134 596h1v1h-1zM1299 596h1v1h-1zM699 597h1v1h-1zM1133 597h1v1h-1zM699 598h1v1h-1zM1132 598h1v1h-1zM1126 599h1v1h-1zM1294 599h1v1h-1zM1296 599h1v1h-1zM1127 600h2v1h-2zM1295 600h1v1h-1z" fill="#ff0000" shape-rendering="crispEdges"/></g>
<clipPath id="cd"><rect x="3" y="614" width="1393" height="101"/></clipPath><g clip-path="url(#cd)"><path d="M2 628h3V671h-3zM6 627h3V671h-3zM10 627h3V671h-3zM14 629h3V671h-3zM18 629h3V671h-3zM22 630h3V671h-3zM26 630h3V671h-3zM30 630h3V671h-3zM34 630h3V671h-3zM38 631h3V671h-3zM42 633h3V671h-3zM46 634h3V671h-3zM50 635h3V671h-3zM54 637h3V671h-3zM58 637h3V671h-3zM62 636h3V671h-3zM66 637h3V671h-3zM70 638h3V671h-3zM74 641h3V671h-3zM78 642h3V671h-3zM82 646h3V671h-3zM86 649h3V671h-3zM90 649h3V671h-3zM94 647h3V671h-3zM98 645h3V671h-3zM102 646h3V671h-3zM106 646h3V671h-3zM110 646h3V671h-3zM114 649h3V671h-3zM118 650h3V671h-3zM122 651h3V671h-3zM126 653h3V671h-3zM130 654h3V671h-3zM134 656h3V671h-3zM138 658h3V671h-3zM142 657h3V671h-3zM146 655h3V671h-3zM150 652h3V671h-3zM154 650h3V671h-3zM158 648h3V671h-3zM162 651h3V671h-3zM166 648h3V671h-3zM170 648h3V671h-3zM174 649h3V671h-3zM178 649h3V671h-3zM182 654h3V671h-3zM186 660h3V671h-3zM190 665h3V671h-3zM194 669h3V671h-3zM198 671h3V674h-3zM202 671h3V678h-3zM206 671h3V680h-3zM210 671h3V680h-3zM214 671h3V681h-3zM218 671h3V680h-3zM222 671h3V681h-3zM226 671h3V681h-3zM230 671h3V684h-3zM234 671h3V686h-3zM238 671h3V688h-3zM242 671h3V689h-3zM246 671h3V690h-3zM250 671h3V689h-3zM254 671h3V685h-3zM258 671h3V682h-3zM262 671h3V681h-3zM266 671h3V681h-3zM270 671h3V684h-3zM274 671h3V684h-3zM278 671h3V687h-3zM282 671h3V688h-3zM286 671h3V686h-3zM290 671h3V687h-3zM294 671h3V687h-3zM298 671h3V688h-3zM302 671h3V688h-3zM306 671h3V687h-3zM310 671h3V686h-3zM314 671h3V686h-3zM318 671h3V686h-3zM322 671h3V685h-3zM326 671h3V685h-3zM330 671h3V686h-3zM334 671h3V686h-3zM338 671h3V685h-3zM342 671h3V681h-3zM346 671h3V677h-3zM350 671h3V674h-3zM354 669h3V671h-3zM358 668h3V671h-3zM362 668h3V671h-3zM366 671h3V679h-3zM370 671h3V683h-3zM374 671h3V687h-3zM378 671h3V690h-3zM382 671h3V692h-3zM386 671h3V695h-3zM390 671h3V696h-3zM394 671h3V697h-3zM398 671h3V700h-3zM402 671h3V700h-3zM406 671h3V700h-3zM410 671h3V701h-3zM414 671h3V699h-3zM418 671h3V695h-3zM422 671h3V689h-3zM426 671h3V686h-3zM430 671h3V681h-3zM434 671h3V677h-3zM438 671h3V672h-3zM442 663h3V671h-3zM446 657h3V671h-3zM450 654h3V671h-3zM454 647h3V671h-3zM458 642h3V671h-3zM462 639h3V671h-3zM466 637h3V671h-3zM470 634h3V671h-3zM474 633h3V671h-3zM478 632h3V671h-3zM482 632h3V671h-3zM486 634h3V671h-3zM490 636h3V671h-3zM494 638h3V671h-3zM498 640h3V671h-3zM502 641h3V671h-3zM506 642h3V671h-3zM510 644h3V671h-3zM514 646h3V671h-3zM518 648h3V671h-3zM522 648h3V671h-3zM526 648h3V671h-3zM530 649h3V671h-3zM534 646h3V671h-3zM538 643h3V671h-3zM542 641h3V671h-3zM546 639h3V671h-3zM550 636h3V671h-3zM554 633h3V671h-3zM558 628h3V671h-3zM562 622h3V671h-3zM566 620h3V671h-3zM570 619h3V671h-3zM574 620h3V671h-3zM578 621h3V671h-3zM582 622h3V671h-3zM586 624h3V671h-3zM590 625h3V671h-3zM594 627h3V671h-3zM598 629h3V671h-3zM602 630h3V671h-3zM606 631h3V671h-3zM610 632h3V671h-3zM614 634h3V671h-3zM618 640h3V671h-3zM622 644h3V671h-3zM626 646h3V671h-3zM630 649h3V671h-3zM634 650h3V671h-3zM638 653h3V671h-3zM642 657h3V671h-3zM646 661h3V671h-3zM650 663h3V671h-3zM654 664h3V671h-3zM658 663h3V671h-3zM662 664h3V671h-3zM666 664h3V671h-3zM670 663h3V671h-3zM674 663h3V671h-3zM678 664h3V671h-3zM682 665h3V671h-3zM686 665h3V671h-3zM690 668h3V671h-3zM694 670h3V671h-3zM698 671h3V673h-3zM702 671h3V673h-3zM706 671h3V674h-3zM710 671h3V676h-3zM714 671h3V675h-3zM718 671h3V675h-3zM722 671h3V672h-3zM726 669h3V671h-3zM730 667h3V671h-3zM734 669h3V671h-3zM738 671h3V672h-3zM742 671h3V672h-3zM746 671h3V673h-3zM750 671h3V674h-3zM754 671h3V675h-3zM758 671h3V675h-3zM762 671h3V675h-3zM766 671h3V675h-3zM770 671h3V673h-3zM774 671h3V673h-3zM778 671h3V673h-3zM782 671h3V672h-3zM786 670h3V671h-3zM790 669h3V671h-3zM794 669h3V671h-3zM798 669h3V671h-3zM802 667h3V671h-3zM806 665h3V671h-3zM810 664h3V671h-3zM814 667h3V671h-3zM818 668h3V671h-3zM822 666h3V671h-3zM826 665h3V671h-3zM830 665h3V671h-3zM834 664h3V671h-3zM838 663h3V671h-3zM842 662h3V671h-3zM846 662h3V671h-3zM850 662h3V671h-3zM854 662h3V671h-3zM858 661h3V671h-3zM862 661h3V671h-3zM866 662h3V671h-3zM870 662h3V671h-3zM874 659h3V671h-3zM878 658h3V671h-3zM882 657h3V671h-3zM886 656h3V671h-3zM890 655h3V671h-3zM894 655h3V671h-3zM898 656h3V671h-3zM902 656h3V671h-3zM906 658h3V671h-3zM910 659h3V671h-3zM914 659h3V671h-3zM918 660h3V671h-3zM922 661h3V671h-3zM926 663h3V671h-3zM930 664h3V671h-3zM934 664h3V671h-3zM938 664h3V671h-3zM942 665h3V671h-3zM946 666h3V671h-3zM950 666h3V671h-3zM954 666h3V671h-3zM958 666h3V671h-3zM962 666h3V671h-3zM966 664h3V671h-3zM970 662h3V671h-3zM974 661h3V671h-3zM978 667h3V671h-3zM982 671h3V672h-3zM986 671h3V674h-3zM990 671h3V675h-3zM994 671h3V675h-3zM998 671h3V676h-3zM1002 671h3V677h-3zM1006 671h3V678h-3zM1010 671h3V680h-3zM1014 671h3V680h-3zM1018 671h3V676h-3zM1022 671h3V679h-3zM1026 671h3V680h-3zM1030 671h3V682h-3zM1034 671h3V683h-3zM1038 671h3V682h-3zM1042 671h3V682h-3zM1046 671h3V682h-3zM1050 671h3V680h-3zM1054 671h3V678h-3zM1058 671h3V675h-3zM1062 671h3V674h-3zM1066 671h3V675h-3zM1070 671h3V681h-3zM1074 671h3V684h-3zM1078 671h3V686h-3zM1082 671h3V687h-3zM1086 671h3V688h-3zM1090 671h3V689h-3zM1094 671h3V690h-3zM1098 671h3V690h-3zM1102 671h3V690h-3zM1106 671h3V690h-3zM1110 671h3V690h-3zM1114 671h3V690h-3zM1118 671h3V693h-3zM1122 671h3V696h-3zM1126 671h3V699h-3zM1130 671h3V700h-3zM1134 671h3V703h-3zM1138 671h3V701h-3zM1142 671h3V700h-3zM1146 671h3V703h-3zM1150 671h3V707h-3zM1154 671h3V711h-3zM1158 671h3V711h-3zM1162 671h3V709h-3zM1166 671h3V709h-3zM1170 671h3V707h-3zM1174 671h3V704h-3zM1178 671h3V703h-3zM1182 671h3V700h-3zM1186 671h3V697h-3zM1190 671h3V696h-3zM1194 671h3V695h-3zM1198 671h3V692h-3zM1202 671h3V689h-3zM1206 671h3V687h-3zM1210 671h3V685h-3zM1214 671h3V684h-3zM1218 671h3V685h-3zM1222 671h3V689h-3zM1226 671h3V692h-3zM1230 671h3V690h-3zM1234 671h3V683h-3zM1238 671h3V683h-3zM1242 671h3V684h-3zM1246 671h3V691h-3zM1250 671h3V693h-3zM1254 671h3V690h-3zM1258 671h3V688h-3zM1262 671h3V685h-3zM1266 671h3V683h-3zM1270 671h3V681h-3zM1274 671h3V680h-3zM1278 671h3V679h-3zM1282 671h3V679h-3zM1286 671h3V680h-3zM1290 671h3V680h-3zM1294 671h3V682h-3zM1298 671h3V680h-3zM1302 671h3V678h-3zM1306 671h3V677h-3zM1310 671h3V676h-3zM1314 671h3V674h-3zM1318 671h3V677h-3zM1322 671h3V677h-3zM1326 671h3V681h-3zM1330 671h3V681h-3zM1334 671h3V682h-3zM1338 671h3V684h-3zM1342 671h3V688h-3zM1346 671h3V692h-3zM1350 671h3V694h-3zM1354 671h3V694h-3zM1358 671h3V693h-3zM1362 671h3V692h-3zM1366 671h3V691h-3zM1370 671h3V689h-3zM1374 671h3V687h-3zM1378 671h3V684h-3zM1382 671h3V682h-3zM1386 671h3V680h-3z" fill="#2e8b57"/><path d="M588 622h12v1h-12zM584 623h4v1h-4zM600 623h3v1h-3zM582 624h2v1h-2zM603 624h3v1h-3zM579 625h3v1h-3zM606 625h3v1h-3zM3 626h3v1h-3zM577 626h2v1h-2zM609 626h3v1h-3zM6 627h4v1h-4zM575 627h2v1h-2zM612 627h3v1h-3zM10 628h9v1h-9zM574 628h1v1h-1zM615 628h1v1h-1zM19 629h20v1h-20zM573 629h1v1h-1zM616 629h3v1h-3zM39 630h7v1h-7zM571 630h2v1h-2zM619 630h2v1h-2zM46 631h4v1h-4zM570 631h1v1h-1zM621 631h2v1h-2zM50 632h5v1h-5zM570 632h1v1h-1zM623 632h2v1h-2zM55 633h6v1h-6zM568 633h2v1h-2zM625 633h1v1h-1zM61 634h6v1h-6zM567 634h1v1h-1zM626 634h1v1h-1zM67 635h4v1h-4zM490 635h15v1h-15zM566 635h1v1h-1zM627 635h2v1h-2zM71 636h3v1h-3zM487 636h3v1h-3zM505 636h5v1h-5zM565 636h1v1h-1zM629 636h2v1h-2zM74 637h4v1h-4zM485 637h2v1h-2zM510 637h2v1h-2zM564 637h1v1h-1zM631 637h2v1h-2zM78 638h2v1h-2zM484 638h1v1h-1zM512 638h3v1h-3zM562 638h2v1h-2zM633 638h2v1h-2zM80 639h3v1h-3zM482 639h2v1h-2zM515 639h2v1h-2zM560 639h2v1h-2zM635 639h1v1h-1zM83 640h3v1h-3zM481 640h1v1h-1zM517 640h3v1h-3zM559 640h1v1h-1zM636 640h2v1h-2zM86 641h3v1h-3zM479 641h2v1h-2zM520 641h2v1h-2zM557 641h2v1h-2zM638 641h1v1h-1zM89 642h4v1h-4zM478 642h1v1h-1zM522 642h3v1h-3zM556 642h1v1h-1zM639 642h1v1h-1zM93 643h3v1h-3zM477 643h1v1h-1zM525 643h3v1h-3zM553 643h3v1h-3zM640 643h2v1h-2zM96 644h4v1h-4zM475 644h2v1h-2zM528 644h3v1h-3zM551 644h2v1h-2zM642 644h1v1h-1zM100 645h8v1h-8zM474 645h1v1h-1zM531 645h3v1h-3zM549 645h2v1h-2zM643 645h1v1h-1zM108 646h5v1h-5zM474 646h1v1h-1zM534 646h15v1h-15zM644 646h2v1h-2zM113 647h6v1h-6zM473 647h1v1h-1zM646 647h1v1h-1zM119 648h5v1h-5zM471 648h2v1h-2zM647 648h1v1h-1zM124 649h8v1h-8zM470 649h1v1h-1zM647 649h1v1h-1zM132 650h3v1h-3zM178 650h10v1h-10zM469 650h1v1h-1zM648 650h2v1h-2zM135 651h3v1h-3zM174 651h4v1h-4zM188 651h2v1h-2zM469 651h1v1h-1zM650 651h1v1h-1zM138 652h3v1h-3zM170 652h4v1h-4zM190 652h1v1h-1zM468 652h1v1h-1zM651 652h2v1h-2zM141 653h3v1h-3zM163 653h7v1h-7zM191 653h2v1h-2zM467 653h1v1h-1zM653 653h2v1h-2zM144 654h19v1h-19zM193 654h2v1h-2zM466 654h1v1h-1zM655 654h2v1h-2zM195 655h2v1h-2zM465 655h1v1h-1zM657 655h2v1h-2zM197 656h1v1h-1zM465 656h1v1h-1zM659 656h2v1h-2zM198 657h2v1h-2zM464 657h1v1h-1zM661 657h3v1h-3zM900 657h23v1h-23zM200 658h2v1h-2zM463 658h1v1h-1zM664 658h2v1h-2zM891 658h9v1h-9zM923 658h6v1h-6zM202 659h1v1h-1zM462 659h1v1h-1zM666 659h2v1h-2zM886 659h5v1h-5zM929 659h5v1h-5zM203 660h1v1h-1zM461 660h1v1h-1zM668 660h3v1h-3zM881 660h5v1h-5zM934 660h4v1h-4zM204 661h1v1h-1zM461 661h1v1h-1zM671 661h3v1h-3zM877 661h4v1h-4zM938 661h3v1h-3zM205 662h1v1h-1zM460 662h1v1h-1zM674 662h3v1h-3zM863 662h14v1h-14zM941 662h4v1h-4zM206 663h1v1h-1zM459 663h1v1h-1zM677 663h5v1h-5zM855 663h8v1h-8zM945 663h4v1h-4zM207 664h2v1h-2zM458 664h1v1h-1zM682 664h12v1h-12zM846 664h9v1h-9zM949 664h10v1h-10zM209 665h1v1h-1zM458 665h1v1h-1zM694 665h5v1h-5zM833 665h13v1h-13zM959 665h22v1h-22zM210 666h1v1h-1zM457 666h1v1h-1zM699 666h4v1h-4zM823 666h10v1h-10zM981 666h8v1h-8zM211 667h1v1h-1zM456 667h1v1h-1zM703 667h4v1h-4zM813 667h10v1h-10zM989 667h4v1h-4zM212 668h1v1h-1zM455 668h1v1h-1zM707 668h3v1h-3zM807 668h6v1h-6zM993 668h5v1h-5zM213 669h1v1h-1zM455 669h1v1h-1zM710 669h4v1h-4zM803 669h4v1h-4zM998 669h4v1h-4zM214 670h1v1h-1zM454 670h1v1h-1zM714 670h4v1h-4zM799 670h4v1h-4zM1002 670h3v1h-3zM215 671h2v1h-2zM453 671h1v1h-1zM718 671h4v1h-4zM741 671h22v1h-22zM796 671h3v1h-3zM1005 671h2v1h-2zM217 672h2v1h-2zM452 672h1v1h-1zM722 672h19v1h-19zM763 672h6v1h-6zM790 672h6v1h-6zM1007 672h2v1h-2zM219 673h2v1h-2zM451 673h1v1h-1zM769 673h21v1h-21zM1009 673h2v1h-2zM221 674h2v1h-2zM450 674h1v1h-1zM1011 674h2v1h-2zM223 675h1v1h-1zM367 675h9v1h-9zM449 675h1v1h-1zM1013 675h5v1h-5zM224 676h2v1h-2zM364 676h3v1h-3zM376 676h4v1h-4zM448 676h1v1h-1zM1018 676h7v1h-7zM226 677h2v1h-2zM361 677h3v1h-3zM380 677h1v1h-1zM448 677h1v1h-1zM1025 677h5v1h-5zM1310 677h27v1h-27zM228 678h3v1h-3zM358 678h3v1h-3zM381 678h2v1h-2zM447 678h1v1h-1zM1030 678h6v1h-6zM1064 678h17v1h-17zM1303 678h7v1h-7zM1337 678h4v1h-4zM231 679h3v1h-3zM356 679h2v1h-2zM383 679h2v1h-2zM446 679h1v1h-1zM1036 679h15v1h-15zM1057 679h7v1h-7zM1081 679h6v1h-6zM1299 679h4v1h-4zM1341 679h2v1h-2zM234 680h3v1h-3zM353 680h3v1h-3zM385 680h2v1h-2zM445 680h1v1h-1zM1051 680h6v1h-6zM1087 680h4v1h-4zM1294 680h5v1h-5zM1343 680h2v1h-2zM237 681h4v1h-4zM350 681h3v1h-3zM387 681h2v1h-2zM444 681h1v1h-1zM1091 681h2v1h-2zM1288 681h6v1h-6zM1345 681h2v1h-2zM241 682h5v1h-5zM348 682h2v1h-2zM389 682h1v1h-1zM443 682h1v1h-1zM1093 682h2v1h-2zM1285 682h3v1h-3zM1347 682h2v1h-2zM246 683h5v1h-5zM345 683h3v1h-3zM390 683h1v1h-1zM442 683h1v1h-1zM1095 683h1v1h-1zM1283 683h2v1h-2zM1349 683h1v1h-1zM251 684h3v1h-3zM273 684h25v1h-25zM340 684h5v1h-5zM391 684h1v1h-1zM442 684h1v1h-1zM1096 684h3v1h-3zM1281 684h2v1h-2zM1350 684h2v1h-2zM254 685h19v1h-19zM298 685h4v1h-4zM333 685h7v1h-7zM392 685h1v1h-1zM441 685h1v1h-1zM1099 685h3v1h-3zM1236 685h11v1h-11zM1268 685h13v1h-13zM1352 685h3v1h-3zM302 686h31v1h-31zM393 686h1v1h-1zM440 686h1v1h-1zM1102 686h5v1h-5zM1231 686h5v1h-5zM1247 686h4v1h-4zM1261 686h7v1h-7zM1355 686h2v1h-2zM394 687h2v1h-2zM439 687h1v1h-1zM1107 687h6v1h-6zM1226 687h5v1h-5zM1251 687h10v1h-10zM1357 687h3v1h-3zM1386 687h2v1h-2zM396 688h1v1h-1zM437 688h2v1h-2zM1113 688h6v1h-6zM1222 688h4v1h-4zM1360 688h2v1h-2zM1384 688h2v1h-2zM397 689h2v1h-2zM436 689h1v1h-1zM1119 689h4v1h-4zM1218 689h4v1h-4zM1362 689h6v1h-6zM1381 689h3v1h-3zM399 690h1v1h-1zM435 690h1v1h-1zM1123 690h4v1h-4zM1216 690h2v1h-2zM1368 690h13v1h-13zM400 691h2v1h-2zM434 691h1v1h-1zM1127 691h4v1h-4zM1214 691h2v1h-2zM402 692h2v1h-2zM433 692h1v1h-1zM1131 692h2v1h-2zM1212 692h2v1h-2zM404 693h2v1h-2zM432 693h1v1h-1zM1133 693h2v1h-2zM1210 693h2v1h-2zM406 694h2v1h-2zM428 694h4v1h-4zM1135 694h5v1h-5zM1208 694h2v1h-2zM408 695h2v1h-2zM424 695h4v1h-4zM1140 695h3v1h-3zM1206 695h2v1h-2zM410 696h3v1h-3zM421 696h3v1h-3zM1143 696h3v1h-3zM1204 696h2v1h-2zM413 697h8v1h-8zM1146 697h3v1h-3zM1202 697h2v1h-2zM1149 698h2v1h-2zM1200 698h2v1h-2zM1151 699h1v1h-1zM1198 699h2v1h-2zM1152 700h2v1h-2zM1196 700h2v1h-2zM1154 701h2v1h-2zM1194 701h2v1h-2zM1156 702h3v1h-3zM1192 702h2v1h-2zM1159 703h3v1h-3zM1190 703h2v1h-2zM1162 704h4v1h-4zM1188 704h2v1h-2zM1166 705h7v1h-7zM1185 705h3v1h-3zM1173 706h12v1h-12z" fill="#ff0000" shape-rendering="crispEdges"/></g>
<path d="M2.5 2V716M1396.5 2V716M2 2.5H1397M2 500.5H1397M2 502.5H1397M2 611.5H1397M2 613.5H1397M2 715.5H1397M1397 33.5H1399M1397 68.5H1399M1397 104.5H1399M1397 139.5H1399M1397 175.5H1399M1397 210.5H1399M1397 246.5H1399M1397 281.5H1399M1397 316.5H1399M1397 352.5H1399M1397 387.5H1399M1397 423.5H1399M1397 458.5H1399M1397 494.5H1399M1397 504.5H1398M1397 610.5H1398M1397 615.5H1398M1397 671.5H1398M1397 714.5H1398M3.5 716V719M67.5 716V719M131.5 716V719M195.5 716V719M259.5 716V719M323.5 716V719M387.5 716V719M451.5 716V719M515.5 716V719M579.5 716V719M643.5 716V719M707.5 716V719M771.5 716V719M835.5 716V719M899.5 716V719M963.5 716V719M1027.5 716V719M1091.5 716V719M1155.5 716V719M1219.5 716V719M1283.5 716V719M1347.5 716V719" stroke="#000" stroke-width="1" fill="none"/>
<rect x="1396" y="525" width="1" height="1" fill="#fff"/><rect x="1396" y="589" width="1" height="1" fill="#fff"/><rect x="0" y="501" width="1436" height="1" fill="#fff"/><rect x="0" y="612" width="1436" height="1" fill="#fff"/>
<path d="M35 501h1v1h-1zM67 501h1v1h-1zM99 501h1v1h-1zM131 501h1v1h-1zM163 501h1v1h-1zM195 501h1v1h-1zM227 501h1v1h-1zM259 501h1v1h-1zM291 501h1v1h-1zM323 501h1v1h-1zM355 501h1v1h-1zM387 501h1v1h-1zM419 501h1v1h-1zM451 501h1v1h-1zM483 501h1v1h-1zM515 501h1v1h-1zM547 501h1v1h-1zM579 501h1v1h-1zM611 501h1v1h-1zM643 501h1v1h-1zM675 501h1v1h-1zM707 501h1v1h-1zM739 501h1v1h-1zM771 501h1v1h-1zM803 501h1v1h-1zM835 501h1v1h-1zM867 501h1v1h-1zM899 501h1v1h-1zM931 501h1v1h-1zM963 501h1v1h-1zM995 501h1v1h-1zM1027 501h1v1h-1zM1059 501h1v1h-1zM1091 501h1v1h-1zM1123 501h1v1h-1zM1155 501h1v1h-1zM1187 501h1v1h-1zM1219 501h1v1h-1zM1251 501h1v1h-1zM1283 501h1v1h-1zM1315 501h1v1h-1zM1347 501h1v1h-1zM1379 501h1v1h-1z" fill="#c0c0c0"/>
<g font-family="Liberation Sans, sans-serif" text-rendering="geometricPrecision" shape-rendering="geometricPrecision"><text x="1402.8" y="36" font-size="9.8" fill="#000" stroke="#000" stroke-width="0.2" textLength="26.4" lengthAdjust="spacingAndGlyphs">1812.5</text><text x="1402.8" y="71" font-size="9.8" fill="#000" stroke="#000" stroke-width="0.2" textLength="26.4" lengthAdjust="spacingAndGlyphs">1809.5</text><text x="1402.8" y="107" font-size="9.8" fill="#000" stroke="#000" stroke-width="0.2" textLength="26.4" lengthAdjust="spacingAndGlyphs">1806.5</text><text x="1402.8" y="142" font-size="9.8" fill="#000" stroke="#000" stroke-width="0.2" textLength="26.4" lengthAdjust="spacingAndGlyphs">1803.5</text><text x="1402.8" y="178" font-size="9.8" fill="#000" stroke="#000" stroke-width="0.2" textLength="26.4" lengthAdjust="spacingAndGlyphs">1800.5</text><text x="1402.8" y="213" font-size="9.8" fill="#000" stroke="#000" stroke-width="0.2" textLength="26.4" lengthAdjust="spacingAndGlyphs">1797.5</text><text x="1402.8" y="249" font-size="9.8" fill="#000" stroke="#000" stroke-width="0.2" textLength="26.4" lengthAdjust="spacingAndGlyphs">1794.5</text><text x="1402.8" y="284" font-size="9.8" fill="#000" stroke="#000" stroke-width="0.2" textLength="26.4" lengthAdjust="spacingAndGlyphs">1791.5</text><text x="1402.8" y="319" font-size="9.8" fill="#000" stroke="#000" stroke-width="0.2" textLength="26.4" lengthAdjust="spacingAndGlyphs">1788.5</text><text x="1402.8" y="355" font-size="9.8" fill="#000" stroke="#000" stroke-width="0.2" textLength="26.4" lengthAdjust="spacingAndGlyphs">1785.5</text><text x="1402.8" y="390" font-size="9.8" fill="#000" stroke="#000" stroke-width="0.2" textLength="26.4" lengthAdjust="spacingAndGlyphs">1782.5</text><text x="1402.8" y="426" font-size="9.8" fill="#000" stroke="#000" stroke-width="0.2" textLength="26.4" lengthAdjust="spacingAndGlyphs">1779.5</text><text x="1402.8" y="461" font-size="9.8" fill="#000" stroke="#000" stroke-width="0.2" textLength="26.4" lengthAdjust="spacingAndGlyphs">1776.5</text><text x="1402.8" y="497" font-size="9.8" fill="#000" stroke="#000" stroke-width="0.2" textLength="26.4" lengthAdjust="spacingAndGlyphs">1773.5</text><text x="1399.6" y="513" font-size="9.8" fill="#000" stroke="#000" stroke-width="0.2" textLength="14.5" lengthAdjust="spacingAndGlyphs">100</text><text x="1398.4" y="528" font-size="9.8" fill="#000" stroke="#000" stroke-width="0.2" textLength="9.6" lengthAdjust="spacingAndGlyphs">80</text><text x="1398.4" y="592" font-size="9.8" fill="#000" stroke="#000" stroke-width="0.2" textLength="9.6" lengthAdjust="spacingAndGlyphs">20</text><text x="1399.7" y="608" font-size="9.8" fill="#000" stroke="#000" stroke-width="0.2" textLength="4.6" lengthAdjust="spacingAndGlyphs">0</text><text x="1399.9" y="624" font-size="9.8" fill="#000" stroke="#000" stroke-width="0.2" textLength="17.6" lengthAdjust="spacingAndGlyphs">4.72</text><text x="1399.4" y="674" font-size="9.8" fill="#000" stroke="#000" stroke-width="0.2" textLength="17.8" lengthAdjust="spacingAndGlyphs">0.00</text><text x="1399.6" y="712" font-size="9.8" fill="#000" stroke="#000" stroke-width="0.2" textLength="20.8" lengthAdjust="spacingAndGlyphs">-3.68</text><rect x="1399" y="306" width="34" height="11" fill="#000" shape-rendering="crispEdges"/><text x="1402.8" y="315.2" font-size="9.8" fill="#fff" stroke="#fff" stroke-width="0.2" textLength="26.4" lengthAdjust="spacingAndGlyphs">1788.9</text><text x="2.2" y="728" font-size="9.8" fill="#000" stroke="#000" stroke-width="0.2" textLength="53" lengthAdjust="spacingAndGlyphs">14 Nov 2013</text><text x="66.2" y="728" font-size="9.8" fill="#000" stroke="#000" stroke-width="0.2" textLength="55.6" lengthAdjust="spacingAndGlyphs">15 Nov 13:05</text><text x="130.2" y="728" font-size="9.8" fill="#000" stroke="#000" stroke-width="0.2" textLength="55.6" lengthAdjust="spacingAndGlyphs">18 Nov 07:05</text><text x="194.2" y="728" font-size="9.8" fill="#000" stroke="#000" stroke-width="0.2" textLength="55.6" lengthAdjust="spacingAndGlyphs">19 Nov 00:05</text><text x="258.2" y="728" font-size="9.8" fill="#000" stroke="#000" stroke-width="0.2" textLength="55.6" lengthAdjust="spacingAndGlyphs">19 Nov 16:05</text><text x="322.2" y="728" font-size="9.8" fill="#000" stroke="#000" stroke-width="0.2" textLength="55.6" lengthAdjust="spacingAndGlyphs">20 Nov 09:05</text><text x="386.2" y="728" font-size="9.8" fill="#000" stroke="#000" stroke-width="0.2" textLength="55.6" lengthAdjust="spacingAndGlyphs">21 Nov 02:05</text><text x="450.2" y="728" font-size="9.8" fill="#000" stroke="#000" stroke-width="0.2" textLength="55.6" lengthAdjust="spacingAndGlyphs">21 Nov 18:05</text><text x="514.2" y="728" font-size="9.8" fill="#000" stroke="#000" stroke-width="0.2" textLength="55.6" lengthAdjust="spacingAndGlyphs">22 Nov 11:05</text><text x="578.2" y="728" font-size="9.8" fill="#000" stroke="#000" stroke-width="0.2" textLength="55.6" lengthAdjust="spacingAndGlyphs">25 Nov 05:05</text><text x="642.2" y="728" font-size="9.8" fill="#000" stroke="#000" stroke-width="0.2" textLength="55.6" lengthAdjust="spacingAndGlyphs">25 Nov 21:05</text><text x="706.2" y="728" font-size="9.8" fill="#000" stroke="#000" stroke-width="0.2" textLength="55.6" lengthAdjust="spacingAndGlyphs">26 Nov 14:05</text><text x="770.2" y="728" font-size="9.8" fill="#000" stroke="#000" stroke-width="0.2" textLength="55.6" lengthAdjust="spacingAndGlyphs">27 Nov 07:05</text><text x="834.2" y="728" font-size="9.8" fill="#000" stroke="#000" stroke-width="0.2" textLength="55.6" lengthAdjust="spacingAndGlyphs">28 Nov 00:05</text><text x="898.2" y="728" font-size="9.8" fill="#000" stroke="#000" stroke-width="0.2" textLength="55.6" lengthAdjust="spacingAndGlyphs">28 Nov 16:05</text><text x="962.2" y="728" font-size="9.8" fill="#000" stroke="#000" stroke-width="0.2" textLength="55.6" lengthAdjust="spacingAndGlyphs">29 Nov 14:05</text><text x="1026.2" y="728" font-size="9.8" fill="#000" stroke="#000" stroke-width="0.2" textLength="49.5" lengthAdjust="spacingAndGlyphs">2 Dec 10:05</text><text x="1090.2" y="728" font-size="9.8" fill="#000" stroke="#000" stroke-width="0.2" textLength="49.5" lengthAdjust="spacingAndGlyphs">3 Dec 03:05</text><text x="1154.2" y="728" font-size="9.8" fill="#000" stroke="#000" stroke-width="0.2" textLength="49.5" lengthAdjust="spacingAndGlyphs">3 Dec 19:05</text><text x="1218.2" y="728" font-size="9.8" fill="#000" stroke="#000" stroke-width="0.2" textLength="49.5" lengthAdjust="spacingAndGlyphs">4 Dec 12:05</text><text x="1282.2" y="728" font-size="9.8" fill="#000" stroke="#000" stroke-width="0.2" textLength="49.5" lengthAdjust="spacingAndGlyphs">5 Dec 05:05</text><text x="1346.2" y="728" font-size="9.8" fill="#000" stroke="#000" stroke-width="0.2" textLength="49.5" lengthAdjust="spacingAndGlyphs">5 Dec 21:05</text></g>
</svg>
</body></html>
